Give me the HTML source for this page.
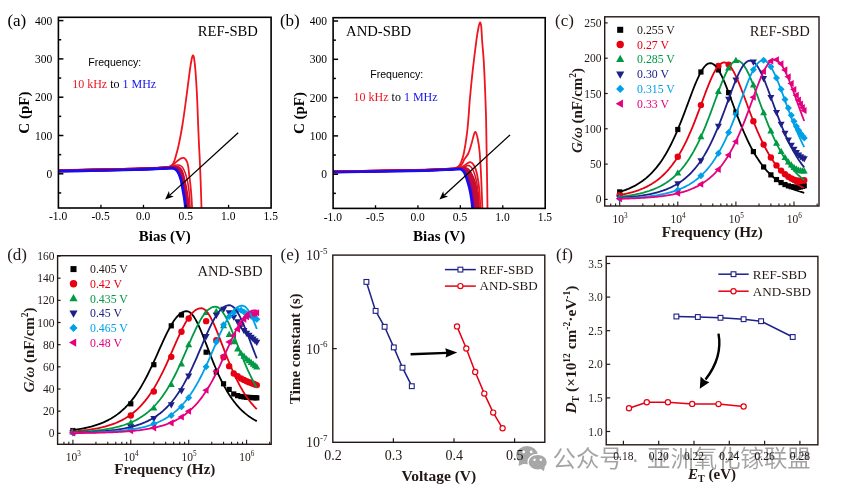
<!DOCTYPE html><html><head><meta charset="utf-8"><style>html,body{margin:0;padding:0;background:#fff}svg{display:block;will-change:transform}</style></head><body>
<svg width="841" height="493" viewBox="0 0 841 493">
<rect width="841" height="493" fill="#fff"/>
<clipPath id="clipa"><rect x="58.4" y="17.3" width="212.7" height="190.7"/></clipPath>
<g clip-path="url(#clipa)">
<path d="M57,170.3 C70,170.03 117,169.18 135,168.7 C153,168.22 159,167.77 165,167.4 C171,167.03 169.33,166.85 171,166.5 C172.67,166.15 173.75,165.55 175,165.3 C176.25,165.05 177.42,164.83 178.5,165 C179.58,165.17 180.58,165.47 181.5,166.3 C182.42,167.13 183.22,168.38 184,170 C184.78,171.62 185.53,173.67 186.2,176 C186.87,178.33 187.48,181 188,184 C188.52,187 188.93,189.67 189.3,194 C189.67,198.33 190.05,207.33 190.2,210" fill="none" stroke="#e01028" stroke-width="1.5" stroke-linejoin="round" stroke-linecap="round"/>
<path d="M57,170.3 C70,170.03 117,169.18 135,168.7 C153,168.22 159.17,167.8 165,167.4 C170.83,167 168.5,166.9 170,166.3 C171.5,165.7 172.67,164.77 174,163.8 C175.33,162.83 176.83,161.4 178,160.5 C179.17,159.6 180.07,158.83 181,158.4 C181.93,157.97 182.83,157.75 183.6,157.9 C184.37,158.05 185,158.58 185.6,159.3 C186.2,160.02 186.75,160.92 187.2,162.2 C187.65,163.48 187.98,164.97 188.3,167 C188.62,169.03 188.8,171.9 189.1,174.4 C189.4,176.9 189.8,179.37 190.1,182 C190.4,184.63 190.65,187.37 190.9,190.2 C191.15,193.03 191.38,195.7 191.6,199 C191.82,202.3 192.1,208.17 192.2,210" fill="none" stroke="#f0141e" stroke-width="1.8" stroke-linejoin="round" stroke-linecap="round"/>
<path d="M57,170.3 C70,170.03 117,169.18 135,168.7 C153,168.22 159.33,167.72 165,167.4 C170.67,167.08 167.95,167.07 169,166.8 C170.05,166.53 170.55,166.43 171.3,165.8 C172.05,165.17 172.83,164.3 173.5,163 C174.17,161.7 174.43,161 175.3,158 C176.17,155 177.48,150.67 178.7,145 C179.92,139.33 181.33,131.9 182.6,124 C183.87,116.1 185.12,106.38 186.3,97.6 C187.48,88.82 188.8,77.73 189.7,71.3 C190.6,64.87 191.17,61.63 191.7,59 C192.23,56.37 192.5,55.58 192.9,55.5 C193.3,55.42 193.67,55.87 194.1,58.5 C194.53,61.13 195,64.78 195.5,71.3 C196,77.82 196.67,88.82 197.1,97.6 C197.53,106.38 197.78,116.1 198.1,124 C198.42,131.9 198.72,139 199,145 C199.28,151 199.53,154.17 199.8,160 C200.07,165.83 200.32,172 200.6,180 C200.88,188 201.32,202.67 201.5,208 C201.68,213.33 201.67,211.33 201.7,212" fill="none" stroke="#f0141e" stroke-width="1.8" stroke-linejoin="round" stroke-linecap="round"/>
<path d="M57,170.5 C64.17,170.37 87,169.97 100,169.7 C113,169.43 125,169.2 135,168.9 C145,168.6 154.17,168.17 160,167.9 C165.83,167.63 167,167.4 170,167.3 C173,167.2 176.2,166.97 178,167.3 C179.8,167.63 180.05,168.38 180.8,169.3 C181.55,170.22 181.9,170.97 182.5,172.8 C183.1,174.63 183.75,177.37 184.4,180.3 C185.05,183.23 185.82,187.03 186.4,190.4 C186.98,193.77 187.48,197.23 187.9,200.5 C188.32,203.77 188.73,208.42 188.9,210" fill="none" stroke="#c80e34" stroke-width="2.4" stroke-linejoin="round" stroke-linecap="round"/>
<path d="M57,170.6 C64.17,170.47 87,170.07 100,169.8 C113,169.53 125,169.3 135,169 C145,168.7 154.17,168.26 160,168 C165.83,167.74 167.09,167.51 170,167.41 C172.91,167.32 175.73,167.1 177.44,167.44 C179.15,167.77 179.5,168.51 180.26,169.43 C181.03,170.34 181.41,171.11 182.03,172.93 C182.64,174.74 183.32,177.39 183.97,180.3 C184.63,183.21 185.38,187.03 185.96,190.4 C186.55,193.77 187.07,197.23 187.49,200.5 C187.91,203.77 188.32,208.42 188.49,210" fill="none" stroke="#c80e34" stroke-width="2.4" stroke-linejoin="round" stroke-linecap="round"/>
<path d="M57,170.7 C64.17,170.57 87,170.17 100,169.9 C113,169.63 125,169.4 135,169.1 C145,168.8 154.17,168.36 160,168.1 C165.83,167.84 167.19,167.61 170,167.53 C172.81,167.44 175.25,167.24 176.88,167.58 C178.5,167.91 178.95,168.64 179.73,169.55 C180.5,170.46 180.91,171.26 181.55,173.05 C182.19,174.84 182.89,177.41 183.55,180.3 C184.21,183.19 184.94,187.03 185.53,190.4 C186.11,193.77 186.65,197.23 187.07,200.5 C187.5,203.77 187.91,208.42 188.07,210" fill="none" stroke="#c80e34" stroke-width="2.4" stroke-linejoin="round" stroke-linecap="round"/>
<path d="M57,170.8 C64.17,170.67 87,170.27 100,170 C113,169.73 125,169.5 135,169.2 C145,168.9 154.17,168.46 160,168.2 C165.83,167.94 167.28,167.72 170,167.64 C172.72,167.56 174.78,167.37 176.31,167.71 C177.84,168.05 178.39,168.76 179.19,169.68 C179.98,170.59 180.42,171.4 181.07,173.18 C181.73,174.95 182.46,177.43 183.12,180.3 C183.79,183.17 184.5,187.03 185.09,190.4 C185.68,193.77 186.23,197.23 186.66,200.5 C187.09,203.77 187.5,208.42 187.66,210" fill="none" stroke="#c70e35" stroke-width="2.4" stroke-linejoin="round" stroke-linecap="round"/>
<path d="M57,170.9 C64.17,170.77 87,170.37 100,170.1 C113,169.83 125,169.6 135,169.3 C145,169 154.17,168.56 160,168.3 C165.83,168.04 167.38,167.82 170,167.75 C172.62,167.68 174.31,167.51 175.75,167.85 C177.19,168.19 177.84,168.89 178.65,169.8 C179.46,170.71 179.93,171.55 180.6,173.3 C181.27,175.05 182.02,177.45 182.7,180.3 C183.38,183.15 184.06,187.03 184.65,190.4 C185.24,193.77 185.82,197.23 186.25,200.5 C186.68,203.77 187.08,208.42 187.25,210" fill="none" stroke="#c30e3a" stroke-width="2.4" stroke-linejoin="round" stroke-linecap="round"/>
<path d="M57,171 C64.17,170.87 87,170.47 100,170.2 C113,169.93 125,169.7 135,169.4 C145,169.1 154.17,168.66 160,168.4 C165.83,168.14 167.47,167.93 170,167.86 C172.53,167.79 173.84,167.64 175.19,167.99 C176.54,168.33 177.29,169.02 178.11,169.93 C178.94,170.83 179.43,171.7 180.12,173.43 C180.82,175.15 181.59,177.47 182.28,180.3 C182.96,183.13 183.62,187.03 184.21,190.4 C184.81,193.77 185.4,197.23 185.84,200.5 C186.28,203.77 186.67,208.42 186.84,210" fill="none" stroke="#b70e46" stroke-width="2.4" stroke-linejoin="round" stroke-linecap="round"/>
<path d="M57,171.1 C64.17,170.97 87,170.57 100,170.3 C113,170.03 125,169.8 135,169.5 C145,169.2 154.17,168.75 160,168.5 C165.83,168.25 167.56,168.04 170,167.97 C172.44,167.91 173.36,167.78 174.62,168.12 C175.89,168.47 176.74,169.15 177.57,170.05 C178.41,170.95 178.94,171.84 179.65,173.55 C180.36,175.26 181.16,177.49 181.85,180.3 C182.54,183.11 183.18,187.03 183.78,190.4 C184.37,193.77 184.98,197.23 185.43,200.5 C185.87,203.77 186.26,208.42 186.43,210" fill="none" stroke="#9e0e61" stroke-width="2.4" stroke-linejoin="round" stroke-linecap="round"/>
<path d="M57,171.2 C64.17,171.07 87,170.67 100,170.4 C113,170.13 125,169.9 135,169.6 C145,169.3 154.17,168.85 160,168.6 C165.83,168.35 167.66,168.14 170,168.09 C172.34,168.03 172.89,167.91 174.06,168.26 C175.24,168.61 176.19,169.27 177.04,170.18 C177.89,171.08 178.44,171.99 179.17,173.68 C179.91,175.36 180.73,177.51 181.43,180.3 C182.12,183.09 182.74,187.03 183.34,190.4 C183.94,193.77 184.57,197.23 185.01,200.5 C185.46,203.77 185.85,208.42 186.01,210" fill="none" stroke="#6e0d94" stroke-width="2.4" stroke-linejoin="round" stroke-linecap="round"/>
<path d="M57,171.3 C64.17,171.17 87,170.77 100,170.5 C113,170.23 125,170 135,169.7 C145,169.4 154.17,168.95 160,168.7 C165.83,168.45 167.75,168.25 170,168.2 C172.25,168.15 172.42,168.05 173.5,168.4 C174.58,168.75 175.63,169.4 176.5,170.3 C177.37,171.2 177.95,172.13 178.7,173.8 C179.45,175.47 180.3,177.53 181,180.3 C181.7,183.07 182.3,187.03 182.9,190.4 C183.5,193.77 184.15,197.23 184.6,200.5 C185.05,203.77 185.43,208.42 185.6,210" fill="none" stroke="#190cf0" stroke-width="2.6" stroke-linejoin="round" stroke-linecap="round"/>
</g>
<line x1="238.2" y1="132.8" x2="169.9" y2="195.12" stroke="#000" stroke-width="1.3"/>
<polygon points="165.1,199.5 168.95,191.11 169.75,195.25 173.81,196.43" fill="#000"/>
<rect x="58.4" y="17.3" width="212.7" height="190.7" fill="none" stroke="#000" stroke-width="1.6"/>
<line x1="58.4" y1="192.95" x2="61.2" y2="192.95" stroke="#000" stroke-width="1.5"/>
<line x1="58.4" y1="173.8" x2="63.4" y2="173.8" stroke="#000" stroke-width="1.5"/>
<text x="52.2" y="177.9" font-family="'Liberation Serif','Times New Roman',serif" font-size="11.5" text-anchor="end" fill="#000">0</text>
<line x1="58.4" y1="154.65" x2="61.2" y2="154.65" stroke="#000" stroke-width="1.5"/>
<line x1="58.4" y1="135.5" x2="63.4" y2="135.5" stroke="#000" stroke-width="1.5"/>
<text x="52.2" y="139.6" font-family="'Liberation Serif','Times New Roman',serif" font-size="11.5" text-anchor="end" fill="#000">100</text>
<line x1="58.4" y1="116.35" x2="61.2" y2="116.35" stroke="#000" stroke-width="1.5"/>
<line x1="58.4" y1="97.2" x2="63.4" y2="97.2" stroke="#000" stroke-width="1.5"/>
<text x="52.2" y="101.3" font-family="'Liberation Serif','Times New Roman',serif" font-size="11.5" text-anchor="end" fill="#000">200</text>
<line x1="58.4" y1="78.05" x2="61.2" y2="78.05" stroke="#000" stroke-width="1.5"/>
<line x1="58.4" y1="58.9" x2="63.4" y2="58.9" stroke="#000" stroke-width="1.5"/>
<text x="52.2" y="63" font-family="'Liberation Serif','Times New Roman',serif" font-size="11.5" text-anchor="end" fill="#000">300</text>
<line x1="58.4" y1="39.75" x2="61.2" y2="39.75" stroke="#000" stroke-width="1.5"/>
<line x1="58.4" y1="20.6" x2="63.4" y2="20.6" stroke="#000" stroke-width="1.5"/>
<text x="52.2" y="24.7" font-family="'Liberation Serif','Times New Roman',serif" font-size="11.5" text-anchor="end" fill="#000">400</text>
<text x="58.1" y="220.3" font-family="'Liberation Serif','Times New Roman',serif" font-size="11.5" text-anchor="middle" fill="#000">-1.0</text>
<line x1="100.94" y1="208" x2="100.94" y2="204.8" stroke="#000" stroke-width="1.3"/>
<text x="100.64" y="220.3" font-family="'Liberation Serif','Times New Roman',serif" font-size="11.5" text-anchor="middle" fill="#000">-0.5</text>
<line x1="143.48" y1="208" x2="143.48" y2="204.8" stroke="#000" stroke-width="1.3"/>
<text x="143.18" y="220.3" font-family="'Liberation Serif','Times New Roman',serif" font-size="11.5" text-anchor="middle" fill="#000">0.0</text>
<line x1="186.02" y1="208" x2="186.02" y2="204.8" stroke="#000" stroke-width="1.3"/>
<text x="185.72" y="220.3" font-family="'Liberation Serif','Times New Roman',serif" font-size="11.5" text-anchor="middle" fill="#000">0.5</text>
<line x1="228.56" y1="208" x2="228.56" y2="204.8" stroke="#000" stroke-width="1.3"/>
<text x="228.26" y="220.3" font-family="'Liberation Serif','Times New Roman',serif" font-size="11.5" text-anchor="middle" fill="#000">1.0</text>
<text x="270.8" y="220.3" font-family="'Liberation Serif','Times New Roman',serif" font-size="11.5" text-anchor="middle" fill="#000">1.5</text>
<text x="164.75" y="240.5" font-family="'Liberation Serif','Times New Roman',serif" font-size="15" text-anchor="middle" font-weight="bold" fill="#000">Bias (V)</text>
<text transform="translate(29.3,112.65) rotate(-90)" x="0" y="0" text-anchor="middle" font-family="'Liberation Serif','Times New Roman',serif" font-size="15" font-weight="bold" fill="#000">C (pF)</text>
<text x="197.7" y="35.8" font-family="'Liberation Serif','Times New Roman',serif" font-size="14.65" fill="#000">REF-SBD</text>
<text x="88.2" y="65.8" font-family="'Liberation Sans',Arial,sans-serif" font-size="11.6" textLength="53" lengthAdjust="spacingAndGlyphs" fill="#000">Frequency:</text>
<text x="72.2" y="88.4" font-family="'Liberation Serif','Times New Roman',serif" font-size="12" fill="#000"><tspan fill="#f0141e">10 kHz</tspan> to <tspan fill="#1414f0">1 MHz</tspan></text>
<text x="7.4" y="25.7" font-family="'Liberation Serif','Times New Roman',serif" font-size="17" fill="#000">(a)</text>
<clipPath id="clipb"><rect x="333.1" y="17.7" width="212.1" height="190.7"/></clipPath>
<g clip-path="url(#clipb)">
<path d="M332,171.5 C347.5,171.23 404.5,170.37 425,169.9 C445.5,169.43 449,168.98 455,168.7 C461,168.42 459.33,168.57 461,168.2 C462.67,167.83 463.83,166.93 465,166.5 C466.17,166.07 467.08,165.6 468,165.6 C468.92,165.6 469.67,165.77 470.5,166.5 C471.33,167.23 472.17,168.25 473,170 C473.83,171.75 474.75,174.17 475.5,177 C476.25,179.83 476.98,183.67 477.5,187 C478.02,190.33 478.32,193.17 478.6,197 C478.88,200.83 479.1,207.83 479.2,210" fill="none" stroke="#d81028" stroke-width="1.5" stroke-linejoin="round" stroke-linecap="round"/>
<path d="M332,171.5 C347.5,171.23 404.5,170.38 425,169.9 C445.5,169.42 449.17,168.95 455,168.6 C460.83,168.25 458.5,168.27 460,167.8 C461.5,167.33 462.75,166.57 464,165.8 C465.25,165.03 466.47,163.82 467.5,163.2 C468.53,162.58 469.37,162.08 470.2,162.1 C471.03,162.12 471.78,162.57 472.5,163.3 C473.22,164.03 473.83,165.05 474.5,166.5 C475.17,167.95 475.88,169.58 476.5,172 C477.12,174.42 477.7,177.67 478.2,181 C478.7,184.33 479.12,187.17 479.5,192 C479.88,196.83 480.33,207 480.5,210" fill="none" stroke="#f0141e" stroke-width="1.8" stroke-linejoin="round" stroke-linecap="round"/>
<path d="M332,171.5 C347.5,171.23 405,170.38 425,169.9 C445,169.42 446.67,168.98 452,168.6 C457.33,168.22 455.67,168 457,167.6 C458.33,167.2 459.12,166.88 460,166.2 C460.88,165.52 461.55,164.7 462.3,163.5 C463.05,162.3 463.5,160.67 464.5,159 C465.5,157.33 467.13,156.03 468.3,153.5 C469.47,150.97 470.6,146.8 471.5,143.8 C472.4,140.8 473.03,137.48 473.7,135.5 C474.37,133.52 474.83,131.35 475.5,131.9 C476.17,132.45 477.03,135.63 477.7,138.8 C478.37,141.97 479,146 479.5,150.9 C480,155.8 480.37,162.45 480.7,168.2 C481.03,173.95 481.22,178.43 481.5,185.4 C481.78,192.37 482.25,205.9 482.4,210" fill="none" stroke="#f0141e" stroke-width="1.8" stroke-linejoin="round" stroke-linecap="round"/>
<path d="M332,171.5 C347.5,171.23 405,170.38 425,169.9 C445,169.42 446.75,168.98 452,168.6 C457.25,168.22 455.38,168 456.5,167.6 C457.62,167.2 457.95,167.05 458.7,166.2 C459.45,165.35 460.15,164.62 461,162.5 C461.85,160.38 462.82,158.22 463.8,153.5 C464.78,148.78 466.08,140.62 466.9,134.2 C467.72,127.78 468.23,120.52 468.7,115 C469.17,109.48 469.03,108.48 469.7,101.1 C470.37,93.72 471.58,80.83 472.7,70.7 C473.82,60.57 475.42,47.58 476.4,40.3 C477.38,33.02 477.98,29.98 478.6,27 C479.22,24.02 479.65,22.4 480.1,22.4 C480.55,22.4 480.97,24.03 481.3,27 C481.63,29.97 481.7,34.63 482.1,40.2 C482.5,45.77 483.27,53.67 483.7,60.4 C484.13,67.13 484.4,73.87 484.7,80.6 C485,87.33 485.27,94.23 485.5,100.8 C485.73,107.37 485.92,111.8 486.1,120 C486.28,128.2 486.43,140 486.6,150 C486.77,160 486.95,170 487.1,180 C487.25,190 487.43,205 487.5,210" fill="none" stroke="#f0141e" stroke-width="1.8" stroke-linejoin="round" stroke-linecap="round"/>
<path d="M332,171.5 C340,171.37 364.5,170.97 380,170.7 C395.5,170.43 413.33,170.22 425,169.9 C436.67,169.58 444.5,169.07 450,168.8 C455.5,168.53 455.5,168.43 458,168.3 C460.5,168.17 463.25,167.8 465,168 C466.75,168.2 467.5,168.65 468.5,169.5 C469.5,170.35 470.03,171.28 471,173.1 C471.97,174.92 473.4,177.77 474.3,180.4 C475.2,183.03 475.82,185.85 476.4,188.9 C476.98,191.95 477.42,195.18 477.8,198.7 C478.18,202.22 478.55,208.12 478.7,210" fill="none" stroke="#c80e34" stroke-width="2.1" stroke-linejoin="round" stroke-linecap="round"/>
<path d="M332,171.61 C340,171.48 364.5,171.08 380,170.81 C395.5,170.55 413.33,170.33 425,170.01 C436.67,169.7 444.5,169.18 450,168.91 C455.5,168.65 455.6,168.54 458,168.41 C460.4,168.29 462.81,167.97 464.43,168.19 C466.05,168.4 466.77,168.87 467.71,169.69 C468.65,170.5 469.14,171.31 470.07,173.1 C471,174.89 472.39,177.77 473.29,180.4 C474.18,183.03 474.83,185.85 475.43,188.9 C476.03,191.95 476.48,195.18 476.89,198.7 C477.29,202.22 477.68,208.12 477.84,210" fill="none" stroke="#c80e34" stroke-width="2.1" stroke-linejoin="round" stroke-linecap="round"/>
<path d="M332,171.73 C340,171.6 364.5,171.2 380,170.93 C395.5,170.66 413.33,170.45 425,170.13 C436.67,169.81 444.5,169.3 450,169.03 C455.5,168.76 455.69,168.64 458,168.53 C460.31,168.42 462.37,168.15 463.86,168.37 C465.35,168.6 466.05,169.08 466.93,169.87 C467.81,170.66 468.25,171.35 469.14,173.1 C470.03,174.85 471.39,177.77 472.27,180.4 C473.16,183.03 473.84,185.85 474.46,188.9 C475.07,191.95 475.55,195.18 475.97,198.7 C476.39,202.22 476.82,208.12 476.99,210" fill="none" stroke="#c80e34" stroke-width="2.1" stroke-linejoin="round" stroke-linecap="round"/>
<path d="M332,171.84 C340,171.71 364.5,171.31 380,171.04 C395.5,170.78 413.33,170.56 425,170.24 C436.67,169.93 444.5,169.41 450,169.14 C455.5,168.88 455.79,168.74 458,168.64 C460.21,168.55 461.93,168.32 463.29,168.56 C464.64,168.79 465.32,169.3 466.14,170.06 C466.96,170.81 467.36,171.38 468.21,173.1 C469.07,174.82 470.38,177.77 471.26,180.4 C472.14,183.03 472.85,185.85 473.49,188.9 C474.12,191.95 474.62,195.18 475.06,198.7 C475.5,202.22 475.95,208.12 476.13,210" fill="none" stroke="#c50e37" stroke-width="2.1" stroke-linejoin="round" stroke-linecap="round"/>
<path d="M332,171.96 C340,171.82 364.5,171.42 380,171.16 C395.5,170.89 413.33,170.67 425,170.36 C436.67,170.04 444.5,169.52 450,169.26 C455.5,168.99 455.88,168.84 458,168.76 C460.12,168.67 461.49,168.5 462.71,168.74 C463.94,168.99 464.6,169.52 465.36,170.24 C466.12,170.97 466.47,171.41 467.29,173.1 C468.1,174.79 469.37,177.77 470.24,180.4 C471.11,183.03 471.86,185.85 472.51,188.9 C473.16,191.95 473.68,195.18 474.14,198.7 C474.6,202.22 475.08,208.12 475.27,210" fill="none" stroke="#bd0e3f" stroke-width="2.1" stroke-linejoin="round" stroke-linecap="round"/>
<path d="M332,172.07 C340,171.94 364.5,171.54 380,171.27 C395.5,171 413.33,170.79 425,170.47 C436.67,170.15 444.5,169.64 450,169.37 C455.5,169.1 455.98,168.95 458,168.87 C460.02,168.8 461.05,168.67 462.14,168.93 C463.24,169.19 463.87,169.73 464.57,170.43 C465.27,171.12 465.58,171.44 466.36,173.1 C467.13,174.76 468.36,177.77 469.23,180.4 C470.09,183.03 470.88,185.85 471.54,188.9 C472.21,191.95 472.75,195.18 473.23,198.7 C473.71,202.22 474.22,208.12 474.41,210" fill="none" stroke="#a70e57" stroke-width="2.1" stroke-linejoin="round" stroke-linecap="round"/>
<path d="M332,172.19 C340,172.05 364.5,171.65 380,171.39 C395.5,171.12 413.33,170.9 425,170.59 C436.67,170.27 444.5,169.75 450,169.49 C455.5,169.22 456.07,169.05 458,168.99 C459.93,168.92 460.61,168.84 461.57,169.11 C462.54,169.39 463.14,169.95 463.79,170.61 C464.43,171.28 464.69,171.47 465.43,173.1 C466.17,174.73 467.36,177.77 468.21,180.4 C469.07,183.03 469.89,185.85 470.57,188.9 C471.25,191.95 471.82,195.18 472.31,198.7 C472.81,202.22 473.35,208.12 473.56,210" fill="none" stroke="#770d8b" stroke-width="2.1" stroke-linejoin="round" stroke-linecap="round"/>
<path d="M332,172.3 C340,172.17 364.5,171.77 380,171.5 C395.5,171.23 413.33,171.02 425,170.7 C436.67,170.38 444.5,169.87 450,169.6 C455.5,169.33 456.17,169.15 458,169.1 C459.83,169.05 460.17,169.02 461,169.3 C461.83,169.58 462.42,170.17 463,170.8 C463.58,171.43 463.8,171.5 464.5,173.1 C465.2,174.7 466.35,177.77 467.2,180.4 C468.05,183.03 468.9,185.85 469.6,188.9 C470.3,191.95 470.88,195.18 471.4,198.7 C471.92,202.22 472.48,208.12 472.7,210" fill="none" stroke="#190cf0" stroke-width="2.6" stroke-linejoin="round" stroke-linecap="round"/>
</g>
<line x1="510" y1="134.9" x2="444.19" y2="195.21" stroke="#000" stroke-width="1.3"/>
<polygon points="439.4,199.6 443.23,191.2 444.04,195.34 448.1,196.51" fill="#000"/>
<rect x="333.1" y="17.7" width="212.1" height="190.7" fill="none" stroke="#000" stroke-width="1.6"/>
<line x1="333.1" y1="193.35" x2="335.9" y2="193.35" stroke="#000" stroke-width="1.5"/>
<line x1="333.1" y1="174.2" x2="338.1" y2="174.2" stroke="#000" stroke-width="1.5"/>
<text x="326.9" y="178.3" font-family="'Liberation Serif','Times New Roman',serif" font-size="11.5" text-anchor="end" fill="#000">0</text>
<line x1="333.1" y1="155.05" x2="335.9" y2="155.05" stroke="#000" stroke-width="1.5"/>
<line x1="333.1" y1="135.9" x2="338.1" y2="135.9" stroke="#000" stroke-width="1.5"/>
<text x="326.9" y="140" font-family="'Liberation Serif','Times New Roman',serif" font-size="11.5" text-anchor="end" fill="#000">100</text>
<line x1="333.1" y1="116.75" x2="335.9" y2="116.75" stroke="#000" stroke-width="1.5"/>
<line x1="333.1" y1="97.6" x2="338.1" y2="97.6" stroke="#000" stroke-width="1.5"/>
<text x="326.9" y="101.7" font-family="'Liberation Serif','Times New Roman',serif" font-size="11.5" text-anchor="end" fill="#000">200</text>
<line x1="333.1" y1="78.45" x2="335.9" y2="78.45" stroke="#000" stroke-width="1.5"/>
<line x1="333.1" y1="59.3" x2="338.1" y2="59.3" stroke="#000" stroke-width="1.5"/>
<text x="326.9" y="63.4" font-family="'Liberation Serif','Times New Roman',serif" font-size="11.5" text-anchor="end" fill="#000">300</text>
<line x1="333.1" y1="40.15" x2="335.9" y2="40.15" stroke="#000" stroke-width="1.5"/>
<line x1="333.1" y1="21" x2="338.1" y2="21" stroke="#000" stroke-width="1.5"/>
<text x="326.9" y="25.1" font-family="'Liberation Serif','Times New Roman',serif" font-size="11.5" text-anchor="end" fill="#000">400</text>
<text x="332.8" y="220.7" font-family="'Liberation Serif','Times New Roman',serif" font-size="11.5" text-anchor="middle" fill="#000">-1.0</text>
<line x1="375.52" y1="208.4" x2="375.52" y2="205.2" stroke="#000" stroke-width="1.3"/>
<text x="375.22" y="220.7" font-family="'Liberation Serif','Times New Roman',serif" font-size="11.5" text-anchor="middle" fill="#000">-0.5</text>
<line x1="417.94" y1="208.4" x2="417.94" y2="205.2" stroke="#000" stroke-width="1.3"/>
<text x="417.64" y="220.7" font-family="'Liberation Serif','Times New Roman',serif" font-size="11.5" text-anchor="middle" fill="#000">0.0</text>
<line x1="460.36" y1="208.4" x2="460.36" y2="205.2" stroke="#000" stroke-width="1.3"/>
<text x="460.06" y="220.7" font-family="'Liberation Serif','Times New Roman',serif" font-size="11.5" text-anchor="middle" fill="#000">0.5</text>
<line x1="502.78" y1="208.4" x2="502.78" y2="205.2" stroke="#000" stroke-width="1.3"/>
<text x="502.48" y="220.7" font-family="'Liberation Serif','Times New Roman',serif" font-size="11.5" text-anchor="middle" fill="#000">1.0</text>
<text x="544.9" y="220.7" font-family="'Liberation Serif','Times New Roman',serif" font-size="11.5" text-anchor="middle" fill="#000">1.5</text>
<text x="439.15" y="240.9" font-family="'Liberation Serif','Times New Roman',serif" font-size="15" text-anchor="middle" font-weight="bold" fill="#000">Bias (V)</text>
<text transform="translate(304,113.05) rotate(-90)" x="0" y="0" text-anchor="middle" font-family="'Liberation Serif','Times New Roman',serif" font-size="15" font-weight="bold" fill="#000">C (pF)</text>
<text x="346.1" y="35.6" font-family="'Liberation Serif','Times New Roman',serif" font-size="14.65" fill="#000">AND-SBD</text>
<text x="370.2" y="77.9" font-family="'Liberation Sans',Arial,sans-serif" font-size="11.6" textLength="53" lengthAdjust="spacingAndGlyphs" fill="#000">Frequency:</text>
<text x="353.6" y="100.6" font-family="'Liberation Serif','Times New Roman',serif" font-size="12" fill="#000"><tspan fill="#f0141e">10 kHz</tspan> to <tspan fill="#1414f0">1 MHz</tspan></text>
<text x="279.9" y="25.7" font-family="'Liberation Serif','Times New Roman',serif" font-size="17" fill="#000">(b)</text>
<clipPath id="clipc"><rect x="604.7" y="16.8" width="214.3" height="189.2"/></clipPath>
<g clip-path="url(#clipc)">
<rect x="617.1" y="189.28" width="5.2" height="5.2" fill="#000000"/>
<rect x="675.2" y="126.9" width="5.2" height="5.2" fill="#000000"/>
<rect x="698.32" y="69.4" width="5.2" height="5.2" fill="#000000"/>
<rect x="715.81" y="67.32" width="5.2" height="5.2" fill="#000000"/>
<rect x="726.04" y="90.07" width="5.2" height="5.2" fill="#000000"/>
<rect x="733.3" y="109.53" width="5.2" height="5.2" fill="#000000"/>
<rect x="750.79" y="149.01" width="5.2" height="5.2" fill="#000000"/>
<rect x="761.02" y="164.37" width="5.2" height="5.2" fill="#000000"/>
<rect x="768.28" y="172.27" width="5.2" height="5.2" fill="#000000"/>
<rect x="773.91" y="176.96" width="5.2" height="5.2" fill="#000000"/>
<rect x="778.51" y="179.97" width="5.2" height="5.2" fill="#000000"/>
<rect x="782.4" y="181.95" width="5.2" height="5.2" fill="#000000"/>
<rect x="785.77" y="183.26" width="5.2" height="5.2" fill="#000000"/>
<rect x="788.74" y="184.08" width="5.2" height="5.2" fill="#000000"/>
<rect x="791.4" y="184.54" width="5.2" height="5.2" fill="#000000"/>
<rect x="793.8" y="184.7" width="5.2" height="5.2" fill="#000000"/>
<rect x="796" y="184.61" width="5.2" height="5.2" fill="#000000"/>
<rect x="798.02" y="184.31" width="5.2" height="5.2" fill="#000000"/>
<rect x="799.89" y="183.82" width="5.2" height="5.2" fill="#000000"/>
<rect x="801.63" y="183.16" width="5.2" height="5.2" fill="#000000"/>
<circle cx="619.7" cy="195.03" r="3.2" fill="#e60012"/>
<circle cx="677.8" cy="156.77" r="3.2" fill="#e60012"/>
<circle cx="700.92" cy="105.12" r="3.2" fill="#e60012"/>
<circle cx="718.41" cy="65.85" r="3.2" fill="#e60012"/>
<circle cx="728.64" cy="64.62" r="3.2" fill="#e60012"/>
<circle cx="753.39" cy="121.25" r="3.2" fill="#e60012"/>
<circle cx="763.62" cy="144.58" r="3.2" fill="#e60012"/>
<circle cx="770.88" cy="157.46" r="3.2" fill="#e60012"/>
<circle cx="776.51" cy="165.39" r="3.2" fill="#e60012"/>
<circle cx="781.11" cy="170.62" r="3.2" fill="#e60012"/>
<circle cx="785" cy="174.21" r="3.2" fill="#e60012"/>
<circle cx="788.37" cy="176.73" r="3.2" fill="#e60012"/>
<circle cx="791.34" cy="178.48" r="3.2" fill="#e60012"/>
<circle cx="794" cy="179.66" r="3.2" fill="#e60012"/>
<circle cx="796.4" cy="180.39" r="3.2" fill="#e60012"/>
<circle cx="798.6" cy="180.77" r="3.2" fill="#e60012"/>
<circle cx="800.62" cy="180.83" r="3.2" fill="#e60012"/>
<circle cx="802.49" cy="180.64" r="3.2" fill="#e60012"/>
<circle cx="804.23" cy="180.21" r="3.2" fill="#e60012"/>
<polygon points="619.7,192.86 623.21,199.1 616.19,199.1" fill="#009944"/>
<polygon points="677.8,169.29 681.31,175.53 674.29,175.53" fill="#009944"/>
<polygon points="700.92,132.93 704.43,139.17 697.41,139.17" fill="#009944"/>
<polygon points="718.41,87.71 721.92,93.95 714.9,93.95" fill="#009944"/>
<polygon points="728.64,64.18 732.15,70.42 725.13,70.42" fill="#009944"/>
<polygon points="735.9,56.86 739.41,63.1 732.39,63.1" fill="#009944"/>
<polygon points="753.39,81.28 756.9,87.52 749.88,87.52" fill="#009944"/>
<polygon points="763.62,108.97 767.13,115.21 760.11,115.21" fill="#009944"/>
<polygon points="770.88,127.29 774.39,133.53 767.37,133.53" fill="#009944"/>
<polygon points="776.51,139.44 780.02,145.68 773,145.68" fill="#009944"/>
<polygon points="781.11,147.83 784.62,154.07 777.6,154.07" fill="#009944"/>
<polygon points="785,153.8 788.51,160.04 781.49,160.04" fill="#009944"/>
<polygon points="788.37,158.15 791.88,164.39 784.86,164.39" fill="#009944"/>
<polygon points="791.34,161.34 794.85,167.58 787.83,167.58" fill="#009944"/>
<polygon points="794,163.66 797.51,169.9 790.49,169.9" fill="#009944"/>
<polygon points="796.4,165.3 799.91,171.54 792.89,171.54" fill="#009944"/>
<polygon points="798.6,166.4 802.11,172.64 795.09,172.64" fill="#009944"/>
<polygon points="800.62,167.06 804.13,173.3 797.11,173.3" fill="#009944"/>
<polygon points="802.49,167.33 806,173.57 798.98,173.57" fill="#009944"/>
<polygon points="804.23,167.28 807.74,173.52 800.72,173.52" fill="#009944"/>
<polygon points="619.7,201.72 623.21,195.48 616.19,195.48" fill="#1d2088"/>
<polygon points="677.8,187.52 681.31,181.28 674.29,181.28" fill="#1d2088"/>
<polygon points="700.92,164.52 704.43,158.28 697.41,158.28" fill="#1d2088"/>
<polygon points="718.41,130.11 721.92,123.87 714.9,123.87" fill="#1d2088"/>
<polygon points="728.64,102.94 732.15,96.7 725.13,96.7" fill="#1d2088"/>
<polygon points="735.9,83.85 739.41,77.61 732.39,77.61" fill="#1d2088"/>
<polygon points="753.39,65.69 756.9,59.45 749.88,59.45" fill="#1d2088"/>
<polygon points="763.62,82.35 767.13,76.11 760.11,76.11" fill="#1d2088"/>
<polygon points="770.88,101.15 774.39,94.91 767.37,94.91" fill="#1d2088"/>
<polygon points="776.51,116.35 780.02,110.11 773,110.11" fill="#1d2088"/>
<polygon points="781.11,127.99 784.62,121.75 777.6,121.75" fill="#1d2088"/>
<polygon points="785,136.88 788.51,130.64 781.49,130.64" fill="#1d2088"/>
<polygon points="788.37,143.71 791.88,137.47 784.86,137.47" fill="#1d2088"/>
<polygon points="791.34,148.99 794.85,142.75 787.83,142.75" fill="#1d2088"/>
<polygon points="794,153.09 797.51,146.85 790.49,146.85" fill="#1d2088"/>
<polygon points="796.4,156.25 799.91,150.01 792.89,150.01" fill="#1d2088"/>
<polygon points="798.6,158.65 802.11,152.41 795.09,152.41" fill="#1d2088"/>
<polygon points="800.62,160.44 804.13,154.2 797.11,154.2" fill="#1d2088"/>
<polygon points="802.49,161.7 806,155.46 798.98,155.46" fill="#1d2088"/>
<polygon points="804.23,162.52 807.74,156.28 800.72,156.28" fill="#1d2088"/>
<polygon points="619.7,194.95 623.2,198.45 619.7,201.95 616.2,198.45" fill="#00a0e9"/>
<polygon points="677.8,186.4 681.3,189.9 677.8,193.4 674.3,189.9" fill="#00a0e9"/>
<polygon points="700.92,172.29 704.42,175.79 700.92,179.29 697.42,175.79" fill="#00a0e9"/>
<polygon points="718.41,149.69 721.91,153.19 718.41,156.69 714.91,153.19" fill="#00a0e9"/>
<polygon points="728.64,128.96 732.14,132.46 728.64,135.96 725.14,132.46" fill="#00a0e9"/>
<polygon points="735.9,110.73 739.4,114.23 735.9,117.73 732.4,114.23" fill="#00a0e9"/>
<polygon points="753.39,66.28 756.89,69.78 753.39,73.28 749.89,69.78" fill="#00a0e9"/>
<polygon points="763.62,56.86 767.12,60.36 763.62,63.86 760.12,60.36" fill="#00a0e9"/>
<polygon points="770.88,63.31 774.38,66.81 770.88,70.31 767.38,66.81" fill="#00a0e9"/>
<polygon points="776.51,74.43 780.01,77.93 776.51,81.43 773.01,77.93" fill="#00a0e9"/>
<polygon points="781.11,85.78 784.61,89.28 781.11,92.78 777.61,89.28" fill="#00a0e9"/>
<polygon points="785,95.95 788.5,99.45 785,102.95 781.5,99.45" fill="#00a0e9"/>
<polygon points="788.37,104.62 791.87,108.12 788.37,111.62 784.87,108.12" fill="#00a0e9"/>
<polygon points="791.34,111.86 794.84,115.36 791.34,118.86 787.84,115.36" fill="#00a0e9"/>
<polygon points="794,117.84 797.5,121.34 794,124.84 790.5,121.34" fill="#00a0e9"/>
<polygon points="796.4,122.76 799.9,126.26 796.4,129.76 792.9,126.26" fill="#00a0e9"/>
<polygon points="798.6,126.75 802.1,130.25 798.6,133.75 795.1,130.25" fill="#00a0e9"/>
<polygon points="800.62,129.97 804.12,133.47 800.62,136.97 797.12,133.47" fill="#00a0e9"/>
<polygon points="802.49,132.52 805.99,136.02 802.49,139.52 798.99,136.02" fill="#00a0e9"/>
<polygon points="804.23,134.48 807.73,137.98 804.23,141.48 800.73,137.98" fill="#00a0e9"/>
<polygon points="615.8,198.79 622.04,195.28 622.04,202.3" fill="#e4007f"/>
<polygon points="673.9,193.33 680.14,189.82 680.14,196.84" fill="#e4007f"/>
<polygon points="697.02,184.26 703.26,180.75 703.26,187.77" fill="#e4007f"/>
<polygon points="714.51,169.38 720.75,165.87 720.75,172.89" fill="#e4007f"/>
<polygon points="724.74,155.02 730.98,151.51 730.98,158.53" fill="#e4007f"/>
<polygon points="732,141.39 738.24,137.88 738.24,144.9" fill="#e4007f"/>
<polygon points="749.49,97.21 755.73,93.7 755.73,100.72" fill="#e4007f"/>
<polygon points="759.72,71.51 765.96,68 765.96,75.02" fill="#e4007f"/>
<polygon points="766.98,60.9 773.22,57.39 773.22,64.41" fill="#e4007f"/>
<polygon points="772.61,59.8 778.85,56.29 778.85,63.31" fill="#e4007f"/>
<polygon points="777.21,63.72 783.45,60.21 783.45,67.23" fill="#e4007f"/>
<polygon points="781.1,69.88 787.34,66.37 787.34,73.39" fill="#e4007f"/>
<polygon points="784.47,76.72 790.71,73.21 790.71,80.23" fill="#e4007f"/>
<polygon points="787.44,83.42 793.68,79.91 793.68,86.93" fill="#e4007f"/>
<polygon points="790.1,89.61 796.34,86.1 796.34,93.12" fill="#e4007f"/>
<polygon points="792.5,95.14 798.74,91.63 798.74,98.65" fill="#e4007f"/>
<polygon points="794.7,99.96 800.94,96.45 800.94,103.47" fill="#e4007f"/>
<polygon points="796.72,104.09 802.96,100.58 802.96,107.6" fill="#e4007f"/>
<polygon points="798.59,107.55 804.83,104.04 804.83,111.06" fill="#e4007f"/>
<polygon points="800.33,110.41 806.57,106.9 806.57,113.92" fill="#e4007f"/>
<path d="M619.7,191.88 L621.24,191.41 L622.78,190.91 L624.31,190.38 L625.85,189.81 L627.39,189.21 L628.93,188.57 L630.46,187.89 L632,187.17 L633.54,186.41 L635.08,185.6 L636.62,184.74 L638.15,183.82 L639.69,182.85 L641.23,181.82 L642.77,180.72 L644.3,179.56 L645.84,178.33 L647.38,177.02 L648.92,175.64 L650.46,174.17 L651.99,172.61 L653.53,170.96 L655.07,169.22 L656.61,167.38 L658.14,165.42 L659.68,163.36 L661.22,161.19 L662.76,158.89 L664.29,156.47 L665.83,153.92 L667.37,151.25 L668.91,148.43 L670.45,145.48 L671.98,142.4 L673.52,139.17 L675.06,135.81 L676.6,132.32 L678.13,128.7 L679.67,124.96 L681.21,121.1 L682.75,117.15 L684.29,113.12 L685.82,109.02 L687.36,104.88 L688.9,100.73 L690.44,96.6 L691.97,92.52 L693.51,88.53 L695.05,84.68 L696.59,81 L698.13,77.55 L699.66,74.37 L701.2,71.51 L702.74,69.01 L704.28,66.91 L705.81,65.25 L707.35,64.05 L708.89,63.35 L710.43,63.14 L711.97,63.45 L713.5,64.25 L715.04,65.53 L716.58,67.28 L718.12,69.46 L719.65,72.04 L721.19,74.97 L722.73,78.2 L724.27,81.7 L725.81,85.41 L727.34,89.3 L728.88,93.31 L730.42,97.4 L731.96,101.54 L733.49,105.69 L735.03,109.82 L736.57,113.91 L738.11,117.93 L739.65,121.86 L741.18,125.69 L742.72,129.41 L744.26,133.01 L745.8,136.48 L747.33,139.81 L748.87,143.01 L750.41,146.07 L751.95,148.99 L753.48,151.78 L755.02,154.43 L756.56,156.95 L758.1,159.35 L759.64,161.62 L761.17,163.77 L762.71,165.81 L764.25,167.74 L765.79,169.57 L767.32,171.29 L768.86,172.92 L770.4,174.46 L771.94,175.91 L773.48,177.28 L775.01,178.57 L776.55,179.79 L778.09,180.94 L779.63,182.02 L781.16,183.04 L782.7,184 L784.24,184.91 L785.78,185.76 L787.32,186.56 L788.85,187.32 L790.39,188.03 L791.93,188.7 L793.47,189.33 L795,189.92 L796.54,190.48 L798.08,191.01 L799.62,191.51 L801.16,191.97 L802.69,192.41 L804.23,192.82" fill="none" stroke="#000000" stroke-width="1.8" stroke-linejoin="round"/>
<path d="M619.7,195.03 L621.24,194.76 L622.78,194.46 L624.31,194.15 L625.85,193.82 L627.39,193.47 L628.93,193.1 L630.46,192.71 L632,192.29 L633.54,191.84 L635.08,191.37 L636.62,190.86 L638.15,190.33 L639.69,189.76 L641.23,189.15 L642.77,188.51 L644.3,187.83 L645.84,187.11 L647.38,186.34 L648.92,185.52 L650.46,184.65 L651.99,183.73 L653.53,182.75 L655.07,181.72 L656.61,180.62 L658.14,179.45 L659.68,178.21 L661.22,176.89 L662.76,175.5 L664.29,174.02 L665.83,172.46 L667.37,170.8 L668.91,169.05 L670.45,167.19 L671.98,165.23 L673.52,163.16 L675.06,160.97 L676.6,158.66 L678.13,156.23 L679.67,153.67 L681.21,150.97 L682.75,148.15 L684.29,145.18 L685.82,142.08 L687.36,138.83 L688.9,135.46 L690.44,131.94 L691.97,128.3 L693.51,124.54 L695.05,120.67 L696.59,116.69 L698.13,112.64 L699.66,108.52 L701.2,104.36 L702.74,100.18 L704.28,96.03 L705.81,91.93 L707.35,87.92 L708.89,84.05 L710.43,80.36 L711.97,76.89 L713.5,73.7 L715.04,70.82 L716.58,68.31 L718.12,66.21 L719.65,64.54 L721.19,63.34 L722.73,62.64 L724.27,62.44 L725.81,62.75 L727.34,63.56 L728.88,64.85 L730.42,66.61 L731.96,68.81 L733.49,71.4 L735.03,74.34 L736.57,77.6 L738.11,81.12 L739.65,84.85 L741.18,88.76 L742.72,92.79 L744.26,96.9 L745.8,101.06 L747.33,105.23 L748.87,109.39 L750.41,113.5 L751.95,117.54 L753.48,121.49 L755.02,125.34 L756.56,129.08 L758.1,132.69 L759.64,136.18 L761.17,139.53 L762.71,142.74 L764.25,145.82 L765.79,148.75 L767.32,151.55 L768.86,154.22 L770.4,156.75 L771.94,159.16 L773.48,161.44 L775.01,163.61 L776.55,165.65 L778.09,167.59 L779.63,169.43 L781.16,171.16 L782.7,172.8 L784.24,174.34 L785.78,175.8 L787.32,177.18 L788.85,178.48 L790.39,179.7 L791.93,180.85 L793.47,181.94 L795,182.96 L796.54,183.93 L798.08,184.84 L799.62,185.7 L801.16,186.5 L802.69,187.26 L804.23,187.98" fill="none" stroke="#e60012" stroke-width="1.8" stroke-linejoin="round"/>
<path d="M619.7,196.76 L621.24,196.59 L622.78,196.41 L624.31,196.22 L625.85,196.03 L627.39,195.81 L628.93,195.59 L630.46,195.35 L632,195.09 L633.54,194.82 L635.08,194.54 L636.62,194.23 L638.15,193.91 L639.69,193.56 L641.23,193.19 L642.77,192.81 L644.3,192.39 L645.84,191.95 L647.38,191.48 L648.92,190.99 L650.46,190.46 L651.99,189.9 L653.53,189.3 L655.07,188.67 L656.61,188 L658.14,187.29 L659.68,186.53 L661.22,185.72 L662.76,184.87 L664.29,183.96 L665.83,183 L667.37,181.97 L668.91,180.89 L670.45,179.74 L671.98,178.52 L673.52,177.22 L675.06,175.84 L676.6,174.39 L678.13,172.84 L679.67,171.21 L681.21,169.48 L682.75,167.65 L684.29,165.71 L685.82,163.66 L687.36,161.5 L688.9,159.22 L690.44,156.81 L691.97,154.27 L693.51,151.61 L695.05,148.8 L696.59,145.86 L698.13,142.78 L699.66,139.56 L701.2,136.2 L702.74,132.71 L704.28,129.08 L705.81,125.32 L707.35,121.44 L708.89,117.46 L710.43,113.39 L711.97,109.24 L713.5,105.04 L715.04,100.81 L716.58,96.59 L718.12,92.41 L719.65,88.3 L721.19,84.3 L722.73,80.47 L724.27,76.85 L725.81,73.47 L727.34,70.41 L728.88,67.69 L730.42,65.36 L731.96,63.46 L733.49,62.02 L735.03,61.07 L736.57,60.63 L738.11,60.71 L739.65,61.29 L741.18,62.38 L742.72,63.95 L744.26,65.98 L745.8,68.42 L747.33,71.24 L748.87,74.4 L750.41,77.85 L751.95,81.54 L753.48,85.42 L755.02,89.45 L756.56,93.59 L758.1,97.79 L759.64,102.01 L761.17,106.24 L762.71,110.42 L764.25,114.55 L765.79,118.6 L767.32,122.55 L768.86,126.4 L770.4,130.12 L771.94,133.71 L773.48,137.17 L775.01,140.49 L776.55,143.67 L778.09,146.71 L779.63,149.61 L781.16,152.38 L782.7,155.01 L784.24,157.51 L785.78,159.88 L787.32,162.13 L788.85,164.25 L790.39,166.27 L791.93,168.18 L793.47,169.98 L795,171.68 L796.54,173.29 L798.08,174.81 L799.62,176.24 L801.16,177.59 L802.69,178.87 L804.23,180.07" fill="none" stroke="#009944" stroke-width="1.8" stroke-linejoin="round"/>
<path d="M619.7,197.82 L621.24,197.72 L622.78,197.61 L624.31,197.5 L625.85,197.38 L627.39,197.25 L628.93,197.12 L630.46,196.98 L632,196.82 L633.54,196.66 L635.08,196.49 L636.62,196.31 L638.15,196.11 L639.69,195.91 L641.23,195.69 L642.77,195.45 L644.3,195.2 L645.84,194.94 L647.38,194.66 L648.92,194.36 L650.46,194.05 L651.99,193.71 L653.53,193.35 L655.07,192.97 L656.61,192.57 L658.14,192.14 L659.68,191.69 L661.22,191.2 L662.76,190.69 L664.29,190.14 L665.83,189.56 L667.37,188.95 L668.91,188.29 L670.45,187.6 L671.98,186.86 L673.52,186.07 L675.06,185.24 L676.6,184.35 L678.13,183.41 L679.67,182.42 L681.21,181.36 L682.75,180.24 L684.29,179.04 L685.82,177.78 L687.36,176.44 L688.9,175.02 L690.44,173.51 L691.97,171.92 L693.51,170.23 L695.05,168.44 L696.59,166.55 L698.13,164.55 L699.66,162.43 L701.2,160.2 L702.74,157.85 L704.28,155.37 L705.81,152.76 L707.35,150.01 L708.89,147.13 L710.43,144.11 L711.97,140.95 L713.5,137.65 L715.04,134.21 L716.58,130.64 L718.12,126.93 L719.65,123.1 L721.19,119.17 L722.73,115.13 L724.27,111.01 L725.81,106.83 L727.34,102.61 L728.88,98.39 L730.42,94.18 L731.96,90.03 L733.49,85.99 L735.03,82.08 L736.57,78.36 L738.11,74.87 L739.65,71.67 L741.18,68.8 L742.72,66.3 L744.26,64.21 L745.8,62.57 L747.33,61.42 L748.87,60.76 L750.41,60.61 L751.95,60.98 L753.48,61.86 L755.02,63.23 L756.56,65.06 L758.1,67.33 L759.64,70 L761.17,73.02 L762.71,76.35 L764.25,79.94 L765.79,83.75 L767.32,87.72 L768.86,91.82 L770.4,96 L771.94,100.22 L773.48,104.44 L775.01,108.65 L776.55,112.8 L778.09,116.89 L779.63,120.89 L781.16,124.78 L782.7,128.55 L784.24,132.2 L785.78,135.72 L787.32,139.1 L788.85,142.34 L790.39,145.44 L791.93,148.4 L793.47,151.22 L795,153.9 L796.54,156.46 L798.08,158.88 L799.62,161.18 L801.16,163.36 L802.69,165.43 L804.23,167.38" fill="none" stroke="#1d2088" stroke-width="1.8" stroke-linejoin="round"/>
<path d="M619.7,198.45 L621.24,198.39 L622.78,198.33 L624.31,198.26 L625.85,198.19 L627.39,198.11 L628.93,198.03 L630.46,197.94 L632,197.85 L633.54,197.75 L635.08,197.65 L636.62,197.54 L638.15,197.42 L639.69,197.3 L641.23,197.17 L642.77,197.03 L644.3,196.88 L645.84,196.72 L647.38,196.55 L648.92,196.37 L650.46,196.18 L651.99,195.98 L653.53,195.76 L655.07,195.54 L656.61,195.29 L658.14,195.04 L659.68,194.76 L661.22,194.47 L662.76,194.16 L664.29,193.83 L665.83,193.48 L667.37,193.11 L668.91,192.72 L670.45,192.3 L671.98,191.85 L673.52,191.38 L675.06,190.87 L676.6,190.34 L678.13,189.77 L679.67,189.17 L681.21,188.53 L682.75,187.85 L684.29,187.12 L685.82,186.36 L687.36,185.54 L688.9,184.67 L690.44,183.75 L691.97,182.78 L693.51,181.74 L695.05,180.64 L696.59,179.47 L698.13,178.24 L699.66,176.92 L701.2,175.53 L702.74,174.06 L704.28,172.49 L705.81,170.84 L707.35,169.08 L708.89,167.23 L710.43,165.27 L711.97,163.19 L713.5,161 L715.04,158.69 L716.58,156.26 L718.12,153.69 L719.65,150.99 L721.19,148.16 L722.73,145.19 L724.27,142.08 L725.81,138.82 L727.34,135.43 L728.88,131.9 L730.42,128.24 L731.96,124.45 L733.49,120.55 L735.03,116.54 L736.57,112.44 L738.11,108.27 L739.65,104.06 L741.18,99.82 L742.72,95.59 L744.26,91.41 L745.8,87.31 L747.33,83.34 L748.87,79.53 L750.41,75.94 L751.95,72.62 L753.48,69.61 L755.02,66.95 L756.56,64.69 L758.1,62.88 L759.64,61.53 L761.17,60.67 L762.71,60.33 L764.25,60.5 L765.79,61.18 L767.32,62.36 L768.86,64.02 L770.4,66.13 L771.94,68.65 L773.48,71.55 L775.01,74.77 L776.55,78.28 L778.09,82.01 L779.63,85.94 L781.16,90 L782.7,94.16 L784.24,98.37 L785.78,102.61 L787.32,106.83 L788.85,111.02 L790.39,115.14 L791.93,119.18 L793.47,123.13 L795,126.96 L796.54,130.66 L798.08,134.24 L799.62,137.68 L801.16,140.98 L802.69,144.14 L804.23,147.16" fill="none" stroke="#00a0e9" stroke-width="1.8" stroke-linejoin="round"/>
<path d="M619.7,198.79 L621.24,198.75 L622.78,198.71 L624.31,198.67 L625.85,198.62 L627.39,198.58 L628.93,198.52 L630.46,198.47 L632,198.41 L633.54,198.35 L635.08,198.28 L636.62,198.21 L638.15,198.14 L639.69,198.06 L641.23,197.97 L642.77,197.88 L644.3,197.79 L645.84,197.69 L647.38,197.58 L648.92,197.47 L650.46,197.34 L651.99,197.22 L653.53,197.08 L655.07,196.93 L656.61,196.78 L658.14,196.61 L659.68,196.44 L661.22,196.25 L662.76,196.05 L664.29,195.84 L665.83,195.62 L667.37,195.38 L668.91,195.13 L670.45,194.86 L671.98,194.58 L673.52,194.27 L675.06,193.95 L676.6,193.61 L678.13,193.25 L679.67,192.86 L681.21,192.45 L682.75,192.01 L684.29,191.55 L685.82,191.06 L687.36,190.54 L688.9,189.98 L690.44,189.39 L691.97,188.76 L693.51,188.1 L695.05,187.39 L696.59,186.64 L698.13,185.84 L699.66,184.99 L701.2,184.09 L702.74,183.13 L704.28,182.12 L705.81,181.04 L707.35,179.9 L708.89,178.69 L710.43,177.4 L711.97,176.04 L713.5,174.59 L715.04,173.06 L716.58,171.44 L718.12,169.72 L719.65,167.9 L721.19,165.98 L722.73,163.95 L724.27,161.8 L725.81,159.53 L727.34,157.14 L728.88,154.62 L730.42,151.97 L731.96,149.18 L733.49,146.25 L735.03,143.19 L736.57,139.98 L738.11,136.63 L739.65,133.15 L741.18,129.52 L742.72,125.77 L744.26,121.9 L745.8,117.91 L747.33,113.83 L748.87,109.67 L750.41,105.45 L751.95,101.2 L753.48,96.95 L755.02,92.72 L756.56,88.56 L758.1,84.5 L759.64,80.6 L761.17,76.89 L762.71,73.42 L764.25,70.25 L765.79,67.41 L767.32,64.96 L768.86,62.94 L770.4,61.37 L771.94,60.29 L773.48,59.71 L775.01,59.65 L776.55,60.11 L778.09,61.08 L779.63,62.54 L781.16,64.46 L782.7,66.82 L784.24,69.57 L785.78,72.67 L787.32,76.07 L788.85,79.73 L790.39,83.59 L791.93,87.62 L793.47,91.76 L795,95.98 L796.54,100.23 L798.08,104.49 L799.62,108.71 L801.16,112.89 L802.69,116.99 L804.23,121" fill="none" stroke="#e4007f" stroke-width="1.8" stroke-linejoin="round"/>
</g>
<rect x="604.7" y="16.8" width="214.3" height="189.2" fill="none" stroke="#231815" stroke-width="1.4"/>
<line x1="604.7" y1="199.4" x2="607.7" y2="199.4" stroke="#231815" stroke-width="1.2"/>
<text x="601.5" y="203.4" font-family="'Liberation Serif','Times New Roman',serif" font-size="11.5" text-anchor="end" fill="#231815">0</text>
<line x1="604.7" y1="164.1" x2="607.7" y2="164.1" stroke="#231815" stroke-width="1.2"/>
<text x="601.5" y="168.1" font-family="'Liberation Serif','Times New Roman',serif" font-size="11.5" text-anchor="end" fill="#231815">50</text>
<line x1="604.7" y1="128.8" x2="607.7" y2="128.8" stroke="#231815" stroke-width="1.2"/>
<text x="601.5" y="132.8" font-family="'Liberation Serif','Times New Roman',serif" font-size="11.5" text-anchor="end" fill="#231815">100</text>
<line x1="604.7" y1="93.5" x2="607.7" y2="93.5" stroke="#231815" stroke-width="1.2"/>
<text x="601.5" y="97.5" font-family="'Liberation Serif','Times New Roman',serif" font-size="11.5" text-anchor="end" fill="#231815">150</text>
<line x1="604.7" y1="58.2" x2="607.7" y2="58.2" stroke="#231815" stroke-width="1.2"/>
<text x="601.5" y="62.2" font-family="'Liberation Serif','Times New Roman',serif" font-size="11.5" text-anchor="end" fill="#231815">200</text>
<line x1="604.7" y1="22.9" x2="607.7" y2="22.9" stroke="#231815" stroke-width="1.2"/>
<text x="601.5" y="26.9" font-family="'Liberation Serif','Times New Roman',serif" font-size="11.5" text-anchor="end" fill="#231815">250</text>
<line x1="610.7" y1="206" x2="610.7" y2="203.4" stroke="#231815" stroke-width="1.1"/>
<line x1="615.6" y1="206" x2="615.6" y2="203.4" stroke="#231815" stroke-width="1.1"/>
<line x1="619.7" y1="206" x2="619.7" y2="201.4" stroke="#231815" stroke-width="1.1"/>
<text x="620" y="223.3" text-anchor="middle" font-family="'Liberation Serif','Times New Roman',serif" font-size="11.5" fill="#231815">10<tspan font-size="7.2" dy="-5.3">3</tspan></text>
<line x1="642.82" y1="206" x2="642.82" y2="203.4" stroke="#231815" stroke-width="1.1"/>
<line x1="654.68" y1="206" x2="654.68" y2="203.4" stroke="#231815" stroke-width="1.1"/>
<line x1="662.72" y1="206" x2="662.72" y2="203.4" stroke="#231815" stroke-width="1.1"/>
<line x1="668.8" y1="206" x2="668.8" y2="203.4" stroke="#231815" stroke-width="1.1"/>
<line x1="673.7" y1="206" x2="673.7" y2="203.4" stroke="#231815" stroke-width="1.1"/>
<line x1="677.8" y1="206" x2="677.8" y2="201.4" stroke="#231815" stroke-width="1.1"/>
<text x="678.1" y="223.3" text-anchor="middle" font-family="'Liberation Serif','Times New Roman',serif" font-size="11.5" fill="#231815">10<tspan font-size="7.2" dy="-5.3">4</tspan></text>
<line x1="700.92" y1="206" x2="700.92" y2="203.4" stroke="#231815" stroke-width="1.1"/>
<line x1="712.78" y1="206" x2="712.78" y2="203.4" stroke="#231815" stroke-width="1.1"/>
<line x1="720.82" y1="206" x2="720.82" y2="203.4" stroke="#231815" stroke-width="1.1"/>
<line x1="726.9" y1="206" x2="726.9" y2="203.4" stroke="#231815" stroke-width="1.1"/>
<line x1="731.8" y1="206" x2="731.8" y2="203.4" stroke="#231815" stroke-width="1.1"/>
<line x1="735.9" y1="206" x2="735.9" y2="201.4" stroke="#231815" stroke-width="1.1"/>
<text x="736.2" y="223.3" text-anchor="middle" font-family="'Liberation Serif','Times New Roman',serif" font-size="11.5" fill="#231815">10<tspan font-size="7.2" dy="-5.3">5</tspan></text>
<line x1="759.02" y1="206" x2="759.02" y2="203.4" stroke="#231815" stroke-width="1.1"/>
<line x1="770.88" y1="206" x2="770.88" y2="203.4" stroke="#231815" stroke-width="1.1"/>
<line x1="778.92" y1="206" x2="778.92" y2="203.4" stroke="#231815" stroke-width="1.1"/>
<line x1="785" y1="206" x2="785" y2="203.4" stroke="#231815" stroke-width="1.1"/>
<line x1="789.9" y1="206" x2="789.9" y2="203.4" stroke="#231815" stroke-width="1.1"/>
<line x1="794" y1="206" x2="794" y2="201.4" stroke="#231815" stroke-width="1.1"/>
<text x="794.3" y="223.3" text-anchor="middle" font-family="'Liberation Serif','Times New Roman',serif" font-size="11.5" fill="#231815">10<tspan font-size="7.2" dy="-5.3">6</tspan></text>
<line x1="817.12" y1="206" x2="817.12" y2="203.4" stroke="#231815" stroke-width="1.1"/>
<text x="712.35" y="236.6" font-family="'Liberation Serif','Times New Roman',serif" font-size="15.15" text-anchor="middle" font-weight="bold" fill="#231815">Frequency (Hz)</text>
<text transform="translate(581.5,110.5) rotate(-90)" text-anchor="middle" font-family="'Liberation Serif','Times New Roman',serif" font-size="15" font-weight="bold" fill="#231815"><tspan font-style="italic">G/ω</tspan> (nF/cm<tspan font-size="9.5" dy="-6">2</tspan><tspan dy="6">)</tspan></text>
<rect x="617.18" y="26.78" width="6.03" height="6.03" fill="#000000"/>
<text x="637.1" y="33.8" font-family="'Liberation Serif','Times New Roman',serif" font-size="11.8" fill="#231815">0.255 V</text>
<circle cx="620.2" cy="44.57" r="3.71" fill="#e60012"/>
<text x="637.1" y="48.57" font-family="'Liberation Serif','Times New Roman',serif" font-size="11.8" fill="#e60012">0.27 V</text>
<polygon points="620.2,54.82 624.27,62.05 616.13,62.05" fill="#009944"/>
<text x="637.1" y="63.34" font-family="'Liberation Serif','Times New Roman',serif" font-size="11.8" fill="#009944">0.285 V</text>
<polygon points="620.2,78.63 624.27,71.4 616.13,71.4" fill="#1d2088"/>
<text x="637.1" y="78.11" font-family="'Liberation Serif','Times New Roman',serif" font-size="11.8" fill="#1d2088">0.30 V</text>
<polygon points="620.2,84.82 624.26,88.88 620.2,92.94 616.14,88.88" fill="#00a0e9"/>
<text x="637.1" y="92.88" font-family="'Liberation Serif','Times New Roman',serif" font-size="11.8" fill="#00a0e9">0.315 V</text>
<polygon points="615.68,103.65 622.91,99.58 622.91,107.72" fill="#e4007f"/>
<text x="637.1" y="107.65" font-family="'Liberation Serif','Times New Roman',serif" font-size="11.8" fill="#e4007f">0.33 V</text>
<text x="749.7" y="35.5" font-family="'Liberation Serif','Times New Roman',serif" font-size="14.65" fill="#231815">REF-SBD</text>
<text x="555" y="25.5" font-family="'Liberation Serif','Times New Roman',serif" font-size="17" fill="#231815">(c)</text>
<clipPath id="clipd"><rect x="57.6" y="255.7" width="213.6" height="188.6"/></clipPath>
<g clip-path="url(#clipd)">
<rect x="70.3" y="427.93" width="5.2" height="5.2" fill="#000000"/>
<rect x="128.2" y="401.23" width="5.2" height="5.2" fill="#000000"/>
<rect x="151.24" y="362.11" width="5.2" height="5.2" fill="#000000"/>
<rect x="168.67" y="323.22" width="5.2" height="5.2" fill="#000000"/>
<rect x="178.87" y="312.37" width="5.2" height="5.2" fill="#000000"/>
<rect x="203.53" y="349.6" width="5.2" height="5.2" fill="#000000"/>
<rect x="213.73" y="369.44" width="5.2" height="5.2" fill="#000000"/>
<rect x="220.96" y="381.18" width="5.2" height="5.2" fill="#000000"/>
<rect x="226.57" y="386.82" width="5.2" height="5.2" fill="#000000"/>
<rect x="231.15" y="391.37" width="5.2" height="5.2" fill="#000000"/>
<rect x="235.03" y="393.03" width="5.2" height="5.2" fill="#000000"/>
<rect x="238.39" y="393.92" width="5.2" height="5.2" fill="#000000"/>
<rect x="241.35" y="394.32" width="5.2" height="5.2" fill="#000000"/>
<rect x="244" y="394.69" width="5.2" height="5.2" fill="#000000"/>
<rect x="246.4" y="394.82" width="5.2" height="5.2" fill="#000000"/>
<rect x="248.58" y="394.94" width="5.2" height="5.2" fill="#000000"/>
<rect x="250.6" y="395.05" width="5.2" height="5.2" fill="#000000"/>
<rect x="252.46" y="395.15" width="5.2" height="5.2" fill="#000000"/>
<rect x="254.2" y="395.24" width="5.2" height="5.2" fill="#000000"/>
<circle cx="72.9" cy="431.64" r="3.2" fill="#e60012"/>
<circle cx="130.8" cy="415.57" r="3.2" fill="#e60012"/>
<circle cx="153.84" cy="391.53" r="3.2" fill="#e60012"/>
<circle cx="171.27" cy="356.85" r="3.2" fill="#e60012"/>
<circle cx="181.47" cy="331.81" r="3.2" fill="#e60012"/>
<circle cx="188.7" cy="318.51" r="3.2" fill="#e60012"/>
<circle cx="206.13" cy="321.17" r="3.2" fill="#e60012"/>
<circle cx="216.33" cy="340.24" r="3.2" fill="#e60012"/>
<circle cx="223.56" cy="357.19" r="3.2" fill="#e60012"/>
<circle cx="229.17" cy="366.15" r="3.2" fill="#e60012"/>
<circle cx="233.75" cy="373.47" r="3.2" fill="#e60012"/>
<circle cx="237.63" cy="376.14" r="3.2" fill="#e60012"/>
<circle cx="240.99" cy="378.46" r="3.2" fill="#e60012"/>
<circle cx="243.95" cy="379.92" r="3.2" fill="#e60012"/>
<circle cx="246.6" cy="381.22" r="3.2" fill="#e60012"/>
<circle cx="249" cy="382.14" r="3.2" fill="#e60012"/>
<circle cx="251.18" cy="382.97" r="3.2" fill="#e60012"/>
<circle cx="253.2" cy="383.73" r="3.2" fill="#e60012"/>
<circle cx="255.06" cy="384.44" r="3.2" fill="#e60012"/>
<circle cx="256.8" cy="385.1" r="3.2" fill="#e60012"/>
<polygon points="72.9,428.29 76.41,434.53 69.39,434.53" fill="#009944"/>
<polygon points="130.8,419.1 134.31,425.34 127.29,425.34" fill="#009944"/>
<polygon points="153.84,404.36 157.35,410.6 150.33,410.6" fill="#009944"/>
<polygon points="171.27,380.76 174.78,387 167.76,387" fill="#009944"/>
<polygon points="181.47,360.15 184.98,366.39 177.96,366.39" fill="#009944"/>
<polygon points="188.7,341.09 192.21,347.33 185.19,347.33" fill="#009944"/>
<polygon points="206.13,308.85 209.64,315.09 202.62,315.09" fill="#009944"/>
<polygon points="216.33,307.76 219.84,314 212.82,314" fill="#009944"/>
<polygon points="223.56,321.93 227.07,328.17 220.05,328.17" fill="#009944"/>
<polygon points="229.17,330.79 232.68,337.03 225.66,337.03" fill="#009944"/>
<polygon points="233.75,338.12 237.26,344.36 230.24,344.36" fill="#009944"/>
<polygon points="237.63,345.31 241.14,351.55 234.12,351.55" fill="#009944"/>
<polygon points="240.99,349.63 244.5,355.87 237.48,355.87" fill="#009944"/>
<polygon points="243.95,352.55 247.46,358.79 240.44,358.79" fill="#009944"/>
<polygon points="246.6,355.16 250.11,361.4 243.09,361.4" fill="#009944"/>
<polygon points="249,357.09 252.51,363.33 245.49,363.33" fill="#009944"/>
<polygon points="251.18,358.85 254.69,365.09 247.67,365.09" fill="#009944"/>
<polygon points="253.2,360.47 256.71,366.71 249.69,366.71" fill="#009944"/>
<polygon points="255.06,361.97 258.57,368.21 251.55,368.21" fill="#009944"/>
<polygon points="256.8,363.36 260.31,369.6 253.29,369.6" fill="#009944"/>
<polygon points="72.9,436.42 76.41,430.18 69.39,430.18" fill="#1d2088"/>
<polygon points="130.8,430.66 134.31,424.42 127.29,424.42" fill="#1d2088"/>
<polygon points="153.84,422.35 157.35,416.11 150.33,416.11" fill="#1d2088"/>
<polygon points="171.27,408.39 174.78,402.15 167.76,402.15" fill="#1d2088"/>
<polygon points="181.47,394.54 184.98,388.3 177.96,388.3" fill="#1d2088"/>
<polygon points="188.7,379.81 192.21,373.57 185.19,373.57" fill="#1d2088"/>
<polygon points="206.13,340.25 209.64,334.01 202.62,334.01" fill="#1d2088"/>
<polygon points="216.33,318.97 219.84,312.73 212.82,312.73" fill="#1d2088"/>
<polygon points="223.56,313.11 227.07,306.87 220.05,306.87" fill="#1d2088"/>
<polygon points="229.17,316.43 232.68,310.19 225.66,310.19" fill="#1d2088"/>
<polygon points="233.75,320.87 237.26,314.63 230.24,314.63" fill="#1d2088"/>
<polygon points="237.63,325.52 241.14,319.28 234.12,319.28" fill="#1d2088"/>
<polygon points="240.99,329.4 244.5,323.16 237.48,323.16" fill="#1d2088"/>
<polygon points="243.95,334.17 247.46,327.93 240.44,327.93" fill="#1d2088"/>
<polygon points="246.6,336.93 250.11,330.69 243.09,330.69" fill="#1d2088"/>
<polygon points="249,339.04 252.51,332.8 245.49,332.8" fill="#1d2088"/>
<polygon points="251.18,340.96 254.69,334.72 247.67,334.72" fill="#1d2088"/>
<polygon points="253.2,342.74 256.71,336.5 249.69,336.5" fill="#1d2088"/>
<polygon points="255.06,344.38 258.57,338.14 251.55,338.14" fill="#1d2088"/>
<polygon points="256.8,345.9 260.31,339.66 253.29,339.66" fill="#1d2088"/>
<polygon points="72.9,429.36 76.4,432.86 72.9,436.36 69.4,432.86" fill="#00a0e9"/>
<polygon points="130.8,425.37 134.3,428.87 130.8,432.37 127.3,428.87" fill="#00a0e9"/>
<polygon points="153.84,420.27 157.34,423.77 153.84,427.27 150.34,423.77" fill="#00a0e9"/>
<polygon points="171.27,412.07 174.77,415.57 171.27,419.07 167.77,415.57" fill="#00a0e9"/>
<polygon points="181.47,403.21 184.97,406.71 181.47,410.21 177.97,406.71" fill="#00a0e9"/>
<polygon points="188.7,394.34 192.2,397.84 188.7,401.34 185.2,397.84" fill="#00a0e9"/>
<polygon points="206.13,363.32 209.63,366.82 206.13,370.32 202.63,366.82" fill="#00a0e9"/>
<polygon points="216.33,338.48 219.83,341.98 216.33,345.48 212.83,341.98" fill="#00a0e9"/>
<polygon points="223.56,321.32 227.06,324.82 223.56,328.32 220.06,324.82" fill="#00a0e9"/>
<polygon points="229.17,312.91 232.67,316.41 229.17,319.91 225.67,316.41" fill="#00a0e9"/>
<polygon points="233.75,309.24 237.25,312.74 233.75,316.24 230.25,312.74" fill="#00a0e9"/>
<polygon points="237.63,306.81 241.13,310.31 237.63,313.81 234.13,310.31" fill="#00a0e9"/>
<polygon points="240.99,306.82 244.49,310.32 240.99,313.82 237.49,310.32" fill="#00a0e9"/>
<polygon points="243.95,308.57 247.45,312.07 243.95,315.57 240.45,312.07" fill="#00a0e9"/>
<polygon points="246.6,310.14 250.1,313.64 246.6,317.14 243.1,313.64" fill="#00a0e9"/>
<polygon points="249,311.44 252.5,314.94 249,318.44 245.5,314.94" fill="#00a0e9"/>
<polygon points="251.18,312.63 254.68,316.13 251.18,319.63 247.68,316.13" fill="#00a0e9"/>
<polygon points="253.2,313.72 256.7,317.22 253.2,320.72 249.7,317.22" fill="#00a0e9"/>
<polygon points="255.06,314.74 258.56,318.24 255.06,321.74 251.56,318.24" fill="#00a0e9"/>
<polygon points="256.8,315.68 260.3,319.18 256.8,322.68 253.3,319.18" fill="#00a0e9"/>
<polygon points="69,433.08 75.24,429.57 75.24,436.59" fill="#e4007f"/>
<polygon points="126.9,430.86 133.14,427.35 133.14,434.37" fill="#e4007f"/>
<polygon points="149.94,427.87 156.18,424.36 156.18,431.38" fill="#e4007f"/>
<polygon points="167.37,422.88 173.61,419.37 173.61,426.39" fill="#e4007f"/>
<polygon points="177.57,417.01 183.81,413.5 183.81,420.52" fill="#e4007f"/>
<polygon points="184.8,411.14 191.04,407.63 191.04,414.65" fill="#e4007f"/>
<polygon points="202.23,390.2 208.47,386.69 208.47,393.71" fill="#e4007f"/>
<polygon points="212.43,371.24 218.67,367.73 218.67,374.75" fill="#e4007f"/>
<polygon points="219.66,355.84 225.9,352.33 225.9,359.35" fill="#e4007f"/>
<polygon points="225.27,342.01 231.51,338.5 231.51,345.52" fill="#e4007f"/>
<polygon points="229.85,335.23 236.09,331.72 236.09,338.74" fill="#e4007f"/>
<polygon points="233.73,329.14 239.97,325.63 239.97,332.65" fill="#e4007f"/>
<polygon points="237.09,323.6 243.33,320.09 243.33,327.11" fill="#e4007f"/>
<polygon points="240.05,319.16 246.29,315.65 246.29,322.67" fill="#e4007f"/>
<polygon points="242.7,316.83 248.94,313.32 248.94,320.34" fill="#e4007f"/>
<polygon points="245.1,314.74 251.34,311.23 251.34,318.25" fill="#e4007f"/>
<polygon points="247.28,314.18 253.52,310.67 253.52,317.69" fill="#e4007f"/>
<polygon points="249.3,313.67 255.54,310.16 255.54,317.18" fill="#e4007f"/>
<polygon points="251.16,313.19 257.4,309.68 257.4,316.7" fill="#e4007f"/>
<polygon points="252.9,312.75 259.14,309.24 259.14,316.26" fill="#e4007f"/>
<path d="M72.9,430.04 L74.43,429.84 L75.96,429.62 L77.5,429.39 L79.03,429.15 L80.56,428.88 L82.09,428.61 L83.63,428.31 L85.16,428 L86.69,427.67 L88.22,427.31 L89.76,426.94 L91.29,426.54 L92.82,426.12 L94.35,425.67 L95.89,425.19 L97.42,424.68 L98.95,424.14 L100.48,423.57 L102.02,422.96 L103.55,422.31 L105.08,421.62 L106.61,420.89 L108.15,420.12 L109.68,419.3 L111.21,418.43 L112.74,417.5 L114.28,416.52 L115.81,415.48 L117.34,414.38 L118.87,413.21 L120.41,411.97 L121.94,410.66 L123.47,409.27 L125,407.8 L126.54,406.25 L128.07,404.61 L129.6,402.88 L131.13,401.05 L132.67,399.13 L134.2,397.1 L135.73,394.97 L137.26,392.73 L138.8,390.38 L140.33,387.92 L141.86,385.35 L143.39,382.67 L144.93,379.88 L146.46,376.99 L147.99,373.99 L149.52,370.9 L151.06,367.72 L152.59,364.46 L154.12,361.14 L155.65,357.76 L157.19,354.34 L158.72,350.91 L160.25,347.48 L161.78,344.07 L163.32,340.71 L164.85,337.41 L166.38,334.22 L167.91,331.15 L169.45,328.22 L170.98,325.47 L172.51,322.92 L174.04,320.57 L175.58,318.47 L177.11,316.61 L178.64,315.02 L180.17,313.7 L181.7,312.66 L183.24,311.9 L184.77,311.42 L186.3,311.22 L187.83,311.35 L189.37,312 L190.9,313.17 L192.43,314.81 L193.96,316.9 L195.5,319.4 L197.03,322.27 L198.56,325.44 L200.09,328.87 L201.63,332.51 L203.16,336.31 L204.69,340.22 L206.22,344.19 L207.76,348.19 L209.29,352.18 L210.82,356.13 L212.35,360.01 L213.89,363.81 L215.42,367.5 L216.95,371.07 L218.48,374.51 L220.02,377.82 L221.55,380.99 L223.08,384.01 L224.61,386.9 L226.15,389.64 L227.68,392.24 L229.21,394.71 L230.74,397.04 L232.28,399.25 L233.81,401.33 L235.34,403.29 L236.87,405.14 L238.41,406.89 L239.94,408.52 L241.47,410.07 L243,411.52 L244.54,412.88 L246.07,414.16 L247.6,415.36 L249.13,416.48 L250.67,417.54 L252.2,418.53 L253.73,419.46 L255.26,420.34 L256.8,421.15" fill="none" stroke="#000000" stroke-width="1.8" stroke-linejoin="round"/>
<path d="M72.9,431.42 L74.43,431.31 L75.96,431.18 L77.5,431.05 L79.03,430.91 L80.56,430.76 L82.09,430.6 L83.63,430.43 L85.16,430.25 L86.69,430.05 L88.22,429.85 L89.76,429.63 L91.29,429.4 L92.82,429.16 L94.35,428.9 L95.89,428.62 L97.42,428.33 L98.95,428.02 L100.48,427.68 L102.02,427.33 L103.55,426.96 L105.08,426.56 L106.61,426.14 L108.15,425.69 L109.68,425.21 L111.21,424.7 L112.74,424.16 L114.28,423.59 L115.81,422.99 L117.34,422.34 L118.87,421.66 L120.41,420.93 L121.94,420.16 L123.47,419.34 L125,418.47 L126.54,417.54 L128.07,416.57 L129.6,415.53 L131.13,414.43 L132.67,413.26 L134.2,412.02 L135.73,410.71 L137.26,409.33 L138.8,407.86 L140.33,406.31 L141.86,404.67 L143.39,402.94 L144.93,401.11 L146.46,399.18 L147.99,397.15 L149.52,395.02 L151.06,392.77 L152.59,390.41 L154.12,387.95 L155.65,385.36 L157.19,382.67 L158.72,379.86 L160.25,376.94 L161.78,373.92 L163.32,370.79 L164.85,367.58 L166.38,364.27 L167.91,360.89 L169.45,357.45 L170.98,353.97 L172.51,350.46 L174.04,346.94 L175.58,343.43 L177.11,339.96 L178.64,336.56 L180.17,333.24 L181.7,330.03 L183.24,326.96 L184.77,324.06 L186.3,321.35 L187.83,318.85 L189.37,316.59 L190.9,314.57 L192.43,312.82 L193.96,311.34 L195.5,310.14 L197.03,309.24 L198.56,308.62 L200.09,308.29 L201.63,308.23 L203.16,308.65 L204.69,309.57 L206.22,310.98 L207.76,312.85 L209.29,315.13 L210.82,317.81 L212.35,320.81 L213.89,324.1 L215.42,327.63 L216.95,331.34 L218.48,335.19 L220.02,339.14 L221.55,343.13 L223.08,347.14 L224.61,351.14 L226.15,355.08 L227.68,358.96 L229.21,362.75 L230.74,366.43 L232.28,370 L233.81,373.43 L235.34,376.74 L236.87,379.91 L238.41,382.93 L239.94,385.82 L241.47,388.57 L243,391.18 L244.54,393.66 L246.07,396.01 L247.6,398.23 L249.13,400.33 L250.67,402.31 L252.2,404.18 L253.73,405.95 L255.26,407.61 L256.8,409.17" fill="none" stroke="#e60012" stroke-width="1.8" stroke-linejoin="round"/>
<path d="M72.9,432.22 L74.43,432.15 L75.96,432.08 L77.5,432 L79.03,431.92 L80.56,431.83 L82.09,431.74 L83.63,431.64 L85.16,431.54 L86.69,431.43 L88.22,431.31 L89.76,431.19 L91.29,431.05 L92.82,430.91 L94.35,430.76 L95.89,430.6 L97.42,430.44 L98.95,430.26 L100.48,430.06 L102.02,429.86 L103.55,429.64 L105.08,429.42 L106.61,429.17 L108.15,428.91 L109.68,428.64 L111.21,428.34 L112.74,428.03 L114.28,427.7 L115.81,427.35 L117.34,426.98 L118.87,426.58 L120.41,426.16 L121.94,425.71 L123.47,425.24 L125,424.73 L126.54,424.19 L128.07,423.62 L129.6,423.02 L131.13,422.38 L132.67,421.69 L134.2,420.97 L135.73,420.2 L137.26,419.38 L138.8,418.51 L140.33,417.59 L141.86,416.62 L143.39,415.58 L144.93,414.48 L146.46,413.32 L147.99,412.09 L149.52,410.78 L151.06,409.4 L152.59,407.93 L154.12,406.39 L155.65,404.75 L157.19,403.02 L158.72,401.19 L160.25,399.27 L161.78,397.24 L163.32,395.11 L164.85,392.86 L166.38,390.51 L167.91,388.04 L169.45,385.45 L170.98,382.75 L172.51,379.94 L174.04,377.01 L175.58,373.98 L177.11,370.84 L178.64,367.61 L180.17,364.28 L181.7,360.88 L183.24,357.41 L184.77,353.9 L186.3,350.35 L187.83,346.78 L189.37,343.23 L190.9,339.7 L192.43,336.23 L193.96,332.85 L195.5,329.57 L197.03,326.43 L198.56,323.45 L200.09,320.65 L201.63,318.06 L203.16,315.7 L204.69,313.6 L206.22,311.75 L207.76,310.18 L209.29,308.9 L210.82,307.91 L212.35,307.21 L213.89,306.8 L215.42,306.66 L216.95,306.93 L218.48,307.68 L220.02,308.91 L221.55,310.58 L223.08,312.67 L224.61,315.13 L226.15,317.94 L227.68,321.04 L229.21,324.39 L230.74,327.94 L232.28,331.64 L233.81,335.46 L235.34,339.36 L236.87,343.29 L238.41,347.22 L239.94,351.13 L241.47,354.99 L243,358.78 L244.54,362.48 L246.07,366.08 L247.6,369.56 L249.13,372.93 L250.67,376.16 L252.2,379.27 L253.73,382.24 L255.26,385.08 L256.8,387.79" fill="none" stroke="#009944" stroke-width="1.8" stroke-linejoin="round"/>
<path d="M72.9,432.67 L74.43,432.63 L75.96,432.59 L77.5,432.54 L79.03,432.5 L80.56,432.45 L82.09,432.39 L83.63,432.34 L85.16,432.28 L86.69,432.21 L88.22,432.14 L89.76,432.07 L91.29,431.99 L92.82,431.91 L94.35,431.82 L95.89,431.73 L97.42,431.63 L98.95,431.53 L100.48,431.42 L102.02,431.3 L103.55,431.17 L105.08,431.04 L106.61,430.9 L108.15,430.75 L109.68,430.59 L111.21,430.41 L112.74,430.23 L114.28,430.04 L115.81,429.84 L117.34,429.62 L118.87,429.39 L120.41,429.14 L121.94,428.88 L123.47,428.6 L125,428.31 L126.54,427.99 L128.07,427.66 L129.6,427.31 L131.13,426.93 L132.67,426.53 L134.2,426.11 L135.73,425.66 L137.26,425.18 L138.8,424.67 L140.33,424.13 L141.86,423.55 L143.39,422.94 L144.93,422.3 L146.46,421.61 L147.99,420.88 L149.52,420.1 L151.06,419.28 L152.59,418.41 L154.12,417.48 L155.65,416.5 L157.19,415.45 L158.72,414.35 L160.25,413.18 L161.78,411.93 L163.32,410.62 L164.85,409.22 L166.38,407.75 L167.91,406.19 L169.45,404.54 L170.98,402.8 L172.51,400.96 L174.04,399.02 L175.58,396.97 L177.11,394.82 L178.64,392.56 L180.17,390.18 L181.7,387.69 L183.24,385.09 L184.77,382.37 L186.3,379.53 L187.83,376.58 L189.37,373.52 L190.9,370.35 L192.43,367.08 L193.96,363.73 L195.5,360.29 L197.03,356.79 L198.56,353.23 L200.09,349.65 L201.63,346.04 L203.16,342.45 L204.69,338.88 L206.22,335.37 L207.76,331.93 L209.29,328.61 L210.82,325.42 L212.35,322.39 L213.89,319.55 L215.42,316.92 L216.95,314.52 L218.48,312.37 L220.02,310.49 L221.55,308.88 L223.08,307.56 L224.61,306.54 L226.15,305.81 L227.68,305.38 L229.21,305.23 L230.74,305.46 L232.28,306.21 L233.81,307.44 L235.34,309.13 L236.87,311.26 L238.41,313.77 L239.94,316.64 L241.47,319.81 L243,323.23 L244.54,326.87 L246.07,330.66 L247.6,334.57 L249.13,338.55 L250.67,342.57 L252.2,346.59 L253.73,350.58 L255.26,354.51 L256.8,358.38" fill="none" stroke="#1d2088" stroke-width="1.8" stroke-linejoin="round"/>
<path d="M72.9,432.93 L74.43,432.9 L75.96,432.88 L77.5,432.85 L79.03,432.82 L80.56,432.79 L82.09,432.76 L83.63,432.73 L85.16,432.69 L86.69,432.65 L88.22,432.61 L89.76,432.57 L91.29,432.52 L92.82,432.48 L94.35,432.42 L95.89,432.37 L97.42,432.31 L98.95,432.25 L100.48,432.18 L102.02,432.11 L103.55,432.04 L105.08,431.96 L106.61,431.87 L108.15,431.78 L109.68,431.69 L111.21,431.59 L112.74,431.48 L114.28,431.37 L115.81,431.24 L117.34,431.11 L118.87,430.98 L120.41,430.83 L121.94,430.68 L123.47,430.51 L125,430.34 L126.54,430.15 L128.07,429.95 L129.6,429.74 L131.13,429.52 L132.67,429.28 L134.2,429.03 L135.73,428.76 L137.26,428.47 L138.8,428.17 L140.33,427.85 L141.86,427.51 L143.39,427.14 L144.93,426.76 L146.46,426.35 L147.99,425.91 L149.52,425.45 L151.06,424.96 L152.59,424.43 L154.12,423.88 L155.65,423.29 L157.19,422.66 L158.72,422 L160.25,421.29 L161.78,420.54 L163.32,419.75 L164.85,418.9 L166.38,418 L167.91,417.05 L169.45,416.04 L170.98,414.97 L172.51,413.84 L174.04,412.64 L175.58,411.36 L177.11,410.01 L178.64,408.58 L180.17,407.07 L181.7,405.47 L183.24,403.78 L184.77,402 L186.3,400.12 L187.83,398.13 L189.37,396.04 L190.9,393.84 L192.43,391.53 L193.96,389.11 L195.5,386.57 L197.03,383.92 L198.56,381.15 L200.09,378.26 L201.63,375.26 L203.16,372.16 L204.69,368.95 L206.22,365.65 L207.76,362.27 L209.29,358.81 L210.82,355.29 L212.35,351.73 L213.89,348.14 L215.42,344.55 L216.95,340.98 L218.48,337.45 L220.02,333.99 L221.55,330.62 L223.08,327.37 L224.61,324.27 L226.15,321.34 L227.68,318.61 L229.21,316.1 L230.74,313.83 L232.28,311.82 L233.81,310.08 L235.34,308.62 L236.87,307.45 L238.41,306.58 L239.94,306 L241.47,305.71 L243,305.73 L244.54,306.33 L246.07,307.53 L247.6,309.29 L249.13,311.58 L250.67,314.35 L252.2,317.54 L253.73,321.08 L255.26,324.92 L256.8,328.99" fill="none" stroke="#00a0e9" stroke-width="1.8" stroke-linejoin="round"/>
<path d="M72.9,433.08 L74.43,433.07 L75.96,433.05 L77.5,433.04 L79.03,433.02 L80.56,433 L82.09,432.98 L83.63,432.96 L85.16,432.94 L86.69,432.92 L88.22,432.9 L89.76,432.87 L91.29,432.84 L92.82,432.82 L94.35,432.79 L95.89,432.75 L97.42,432.72 L98.95,432.68 L100.48,432.64 L102.02,432.6 L103.55,432.56 L105.08,432.51 L106.61,432.46 L108.15,432.41 L109.68,432.35 L111.21,432.29 L112.74,432.23 L114.28,432.16 L115.81,432.09 L117.34,432.02 L118.87,431.94 L120.41,431.85 L121.94,431.76 L123.47,431.66 L125,431.56 L126.54,431.45 L128.07,431.33 L129.6,431.21 L131.13,431.08 L132.67,430.94 L134.2,430.79 L135.73,430.63 L137.26,430.47 L138.8,430.29 L140.33,430.1 L141.86,429.9 L143.39,429.68 L144.93,429.46 L146.46,429.21 L147.99,428.96 L149.52,428.69 L151.06,428.4 L152.59,428.09 L154.12,427.76 L155.65,427.41 L157.19,427.04 L158.72,426.65 L160.25,426.23 L161.78,425.79 L163.32,425.32 L164.85,424.82 L166.38,424.29 L167.91,423.73 L169.45,423.13 L170.98,422.49 L172.51,421.82 L174.04,421.1 L175.58,420.34 L177.11,419.53 L178.64,418.67 L180.17,417.76 L181.7,416.8 L183.24,415.77 L184.77,414.69 L186.3,413.54 L187.83,412.32 L189.37,411.03 L190.9,409.66 L192.43,408.21 L193.96,406.68 L195.5,405.07 L197.03,403.36 L198.56,401.56 L200.09,399.66 L201.63,397.65 L203.16,395.55 L204.69,393.34 L206.22,391.01 L207.76,388.58 L209.29,386.04 L210.82,383.38 L212.35,380.62 L213.89,377.74 L215.42,374.76 L216.95,371.69 L218.48,368.52 L220.02,365.26 L221.55,361.94 L223.08,358.56 L224.61,355.13 L226.15,351.68 L227.68,348.21 L229.21,344.77 L230.74,341.36 L232.28,338.01 L233.81,334.76 L235.34,331.61 L236.87,328.6 L238.41,325.76 L239.94,323.1 L241.47,320.66 L243,318.44 L244.54,316.47 L246.07,314.76 L247.6,313.32 L249.13,312.16 L250.67,311.29 L252.2,310.69 L253.73,310.38 L255.26,310.34 L256.8,310.74" fill="none" stroke="#e4007f" stroke-width="1.8" stroke-linejoin="round"/>
</g>
<rect x="57.6" y="255.7" width="213.6" height="188.6" fill="none" stroke="#231815" stroke-width="1.4"/>
<line x1="57.6" y1="433.3" x2="60.6" y2="433.3" stroke="#231815" stroke-width="1.2"/>
<text x="54.4" y="437.3" font-family="'Liberation Serif','Times New Roman',serif" font-size="11.5" text-anchor="end" fill="#231815">0</text>
<line x1="57.6" y1="411.14" x2="60.6" y2="411.14" stroke="#231815" stroke-width="1.2"/>
<text x="54.4" y="415.14" font-family="'Liberation Serif','Times New Roman',serif" font-size="11.5" text-anchor="end" fill="#231815">20</text>
<line x1="57.6" y1="388.98" x2="60.6" y2="388.98" stroke="#231815" stroke-width="1.2"/>
<text x="54.4" y="392.98" font-family="'Liberation Serif','Times New Roman',serif" font-size="11.5" text-anchor="end" fill="#231815">40</text>
<line x1="57.6" y1="366.82" x2="60.6" y2="366.82" stroke="#231815" stroke-width="1.2"/>
<text x="54.4" y="370.82" font-family="'Liberation Serif','Times New Roman',serif" font-size="11.5" text-anchor="end" fill="#231815">60</text>
<line x1="57.6" y1="344.66" x2="60.6" y2="344.66" stroke="#231815" stroke-width="1.2"/>
<text x="54.4" y="348.66" font-family="'Liberation Serif','Times New Roman',serif" font-size="11.5" text-anchor="end" fill="#231815">80</text>
<line x1="57.6" y1="322.5" x2="60.6" y2="322.5" stroke="#231815" stroke-width="1.2"/>
<text x="54.4" y="326.5" font-family="'Liberation Serif','Times New Roman',serif" font-size="11.5" text-anchor="end" fill="#231815">100</text>
<line x1="57.6" y1="300.34" x2="60.6" y2="300.34" stroke="#231815" stroke-width="1.2"/>
<text x="54.4" y="304.34" font-family="'Liberation Serif','Times New Roman',serif" font-size="11.5" text-anchor="end" fill="#231815">120</text>
<line x1="57.6" y1="278.18" x2="60.6" y2="278.18" stroke="#231815" stroke-width="1.2"/>
<text x="54.4" y="282.18" font-family="'Liberation Serif','Times New Roman',serif" font-size="11.5" text-anchor="end" fill="#231815">140</text>
<line x1="57.6" y1="256.02" x2="60.6" y2="256.02" stroke="#231815" stroke-width="1.2"/>
<text x="54.4" y="260.02" font-family="'Liberation Serif','Times New Roman',serif" font-size="11.5" text-anchor="end" fill="#231815">160</text>
<line x1="63.93" y1="444.3" x2="63.93" y2="441.7" stroke="#231815" stroke-width="1.1"/>
<line x1="68.81" y1="444.3" x2="68.81" y2="441.7" stroke="#231815" stroke-width="1.1"/>
<line x1="72.9" y1="444.3" x2="72.9" y2="439.7" stroke="#231815" stroke-width="1.1"/>
<text x="73.2" y="461.4" text-anchor="middle" font-family="'Liberation Serif','Times New Roman',serif" font-size="11.5" fill="#231815">10<tspan font-size="7.2" dy="-5.3">3</tspan></text>
<line x1="95.94" y1="444.3" x2="95.94" y2="441.7" stroke="#231815" stroke-width="1.1"/>
<line x1="107.76" y1="444.3" x2="107.76" y2="441.7" stroke="#231815" stroke-width="1.1"/>
<line x1="115.77" y1="444.3" x2="115.77" y2="441.7" stroke="#231815" stroke-width="1.1"/>
<line x1="121.83" y1="444.3" x2="121.83" y2="441.7" stroke="#231815" stroke-width="1.1"/>
<line x1="126.71" y1="444.3" x2="126.71" y2="441.7" stroke="#231815" stroke-width="1.1"/>
<line x1="130.8" y1="444.3" x2="130.8" y2="439.7" stroke="#231815" stroke-width="1.1"/>
<text x="131.1" y="461.4" text-anchor="middle" font-family="'Liberation Serif','Times New Roman',serif" font-size="11.5" fill="#231815">10<tspan font-size="7.2" dy="-5.3">4</tspan></text>
<line x1="153.84" y1="444.3" x2="153.84" y2="441.7" stroke="#231815" stroke-width="1.1"/>
<line x1="165.66" y1="444.3" x2="165.66" y2="441.7" stroke="#231815" stroke-width="1.1"/>
<line x1="173.67" y1="444.3" x2="173.67" y2="441.7" stroke="#231815" stroke-width="1.1"/>
<line x1="179.73" y1="444.3" x2="179.73" y2="441.7" stroke="#231815" stroke-width="1.1"/>
<line x1="184.61" y1="444.3" x2="184.61" y2="441.7" stroke="#231815" stroke-width="1.1"/>
<line x1="188.7" y1="444.3" x2="188.7" y2="439.7" stroke="#231815" stroke-width="1.1"/>
<text x="189" y="461.4" text-anchor="middle" font-family="'Liberation Serif','Times New Roman',serif" font-size="11.5" fill="#231815">10<tspan font-size="7.2" dy="-5.3">5</tspan></text>
<line x1="211.74" y1="444.3" x2="211.74" y2="441.7" stroke="#231815" stroke-width="1.1"/>
<line x1="223.56" y1="444.3" x2="223.56" y2="441.7" stroke="#231815" stroke-width="1.1"/>
<line x1="231.57" y1="444.3" x2="231.57" y2="441.7" stroke="#231815" stroke-width="1.1"/>
<line x1="237.63" y1="444.3" x2="237.63" y2="441.7" stroke="#231815" stroke-width="1.1"/>
<line x1="242.51" y1="444.3" x2="242.51" y2="441.7" stroke="#231815" stroke-width="1.1"/>
<line x1="246.6" y1="444.3" x2="246.6" y2="439.7" stroke="#231815" stroke-width="1.1"/>
<text x="246.9" y="461.4" text-anchor="middle" font-family="'Liberation Serif','Times New Roman',serif" font-size="11.5" fill="#231815">10<tspan font-size="7.2" dy="-5.3">6</tspan></text>
<line x1="269.64" y1="444.3" x2="269.64" y2="441.7" stroke="#231815" stroke-width="1.1"/>
<text x="164.9" y="473.5" font-family="'Liberation Serif','Times New Roman',serif" font-size="15.15" text-anchor="middle" font-weight="bold" fill="#231815">Frequency (Hz)</text>
<text transform="translate(34.2,350) rotate(-90)" text-anchor="middle" font-family="'Liberation Serif','Times New Roman',serif" font-size="15" font-weight="bold" fill="#231815"><tspan font-style="italic">G/ω</tspan> (nF/cm<tspan font-size="9.5" dy="-6">2</tspan><tspan dy="6">)</tspan></text>
<rect x="70.48" y="266.08" width="6.03" height="6.03" fill="#000000"/>
<text x="90" y="273.1" font-family="'Liberation Serif','Times New Roman',serif" font-size="11.8" fill="#231815">0.405 V</text>
<circle cx="73.5" cy="283.8" r="3.71" fill="#e60012"/>
<text x="90" y="287.8" font-family="'Liberation Serif','Times New Roman',serif" font-size="11.8" fill="#e60012">0.42 V</text>
<polygon points="73.5,293.98 77.57,301.21 69.43,301.21" fill="#009944"/>
<text x="90" y="302.5" font-family="'Liberation Serif','Times New Roman',serif" font-size="11.8" fill="#009944">0.435 V</text>
<polygon points="73.5,317.72 77.57,310.49 69.43,310.49" fill="#1d2088"/>
<text x="90" y="317.2" font-family="'Liberation Serif','Times New Roman',serif" font-size="11.8" fill="#1d2088">0.45 V</text>
<polygon points="73.5,323.84 77.56,327.9 73.5,331.96 69.44,327.9" fill="#00a0e9"/>
<text x="90" y="331.9" font-family="'Liberation Serif','Times New Roman',serif" font-size="11.8" fill="#00a0e9">0.465 V</text>
<polygon points="68.98,342.6 76.21,338.53 76.21,346.67" fill="#e4007f"/>
<text x="90" y="346.6" font-family="'Liberation Serif','Times New Roman',serif" font-size="11.8" fill="#e4007f">0.48 V</text>
<text x="197.4" y="276" font-family="'Liberation Serif','Times New Roman',serif" font-size="14.65" fill="#231815">AND-SBD</text>
<text x="7.2" y="260" font-family="'Liberation Serif','Times New Roman',serif" font-size="17" fill="#231815">(d)</text>
<rect x="332.8" y="255.1" width="212" height="187.2" fill="none" stroke="#231815" stroke-width="1.4"/>
<polyline points="366.4,281.9 375.6,310.9 384.6,326.8 393.8,347.4 402.5,367.7 411.8,386.2" fill="none" stroke="#1d2088" stroke-width="1.5" stroke-linejoin="round" stroke-linecap="round"/>
<rect x="364" y="279.5" width="4.8" height="4.8" fill="#fff" stroke="#1d2088" stroke-width="1.1"/>
<rect x="373.2" y="308.5" width="4.8" height="4.8" fill="#fff" stroke="#1d2088" stroke-width="1.1"/>
<rect x="382.2" y="324.4" width="4.8" height="4.8" fill="#fff" stroke="#1d2088" stroke-width="1.1"/>
<rect x="391.4" y="345" width="4.8" height="4.8" fill="#fff" stroke="#1d2088" stroke-width="1.1"/>
<rect x="400.1" y="365.3" width="4.8" height="4.8" fill="#fff" stroke="#1d2088" stroke-width="1.1"/>
<rect x="409.4" y="383.8" width="4.8" height="4.8" fill="#fff" stroke="#1d2088" stroke-width="1.1"/>
<polyline points="457,326.4 466.3,348.5 475.2,372 484.3,393.6 493.2,412.6 502.6,428.3" fill="none" stroke="#e60012" stroke-width="1.5" stroke-linejoin="round" stroke-linecap="round"/>
<circle cx="457" cy="326.4" r="2.6" fill="#fff" stroke="#e60012" stroke-width="1.2"/>
<circle cx="466.3" cy="348.5" r="2.6" fill="#fff" stroke="#e60012" stroke-width="1.2"/>
<circle cx="475.2" cy="372" r="2.6" fill="#fff" stroke="#e60012" stroke-width="1.2"/>
<circle cx="484.3" cy="393.6" r="2.6" fill="#fff" stroke="#e60012" stroke-width="1.2"/>
<circle cx="493.2" cy="412.6" r="2.6" fill="#fff" stroke="#e60012" stroke-width="1.2"/>
<circle cx="502.6" cy="428.3" r="2.6" fill="#fff" stroke="#e60012" stroke-width="1.2"/>
<text x="327.5" y="260" text-anchor="end" font-family="'Liberation Serif','Times New Roman',serif" font-size="14" fill="#231815">10<tspan font-size="9" dy="-6.2">-5</tspan></text>
<line x1="332.8" y1="348.6" x2="336.8" y2="348.6" stroke="#231815" stroke-width="1.2"/>
<text x="327.5" y="353.5" text-anchor="end" font-family="'Liberation Serif','Times New Roman',serif" font-size="14" fill="#231815">10<tspan font-size="9" dy="-6.2">-6</tspan></text>
<text x="327.5" y="447.2" text-anchor="end" font-family="'Liberation Serif','Times New Roman',serif" font-size="14" fill="#231815">10<tspan font-size="9" dy="-6.2">-7</tspan></text>
<text x="333" y="459.7" font-family="'Liberation Serif','Times New Roman',serif" font-size="14" text-anchor="middle" fill="#231815">0.2</text>
<line x1="393.4" y1="442.3" x2="393.4" y2="438.3" stroke="#231815" stroke-width="1.2"/>
<text x="393.6" y="459.7" font-family="'Liberation Serif','Times New Roman',serif" font-size="14" text-anchor="middle" fill="#231815">0.3</text>
<line x1="454" y1="442.3" x2="454" y2="438.3" stroke="#231815" stroke-width="1.2"/>
<text x="454.2" y="459.7" font-family="'Liberation Serif','Times New Roman',serif" font-size="14" text-anchor="middle" fill="#231815">0.4</text>
<line x1="514.6" y1="442.3" x2="514.6" y2="438.3" stroke="#231815" stroke-width="1.2"/>
<text x="514.8" y="459.7" font-family="'Liberation Serif','Times New Roman',serif" font-size="14" text-anchor="middle" fill="#231815">0.5</text>
<text x="438.8" y="480.6" font-family="'Liberation Serif','Times New Roman',serif" font-size="15.5" text-anchor="middle" font-weight="bold" fill="#231815">Voltage (V)</text>
<text transform="translate(300.4,348.7) rotate(-90)" x="0" y="0" text-anchor="middle" font-family="'Liberation Serif','Times New Roman',serif" font-size="15" font-weight="bold" fill="#231815">Time constant (s)</text>
<line x1="444.9" y1="269.6" x2="475.8" y2="269.6" stroke="#1d2088" stroke-width="1.5"/>
<rect x="458" y="267.2" width="4.8" height="4.8" fill="#fff" stroke="#1d2088" stroke-width="1.1"/>
<text x="479.6" y="273.7" font-family="'Liberation Serif','Times New Roman',serif" font-size="13.1" fill="#231815">REF-SBD</text>
<line x1="444.9" y1="286.1" x2="475.8" y2="286.1" stroke="#e60012" stroke-width="1.5"/>
<circle cx="460.4" cy="286.1" r="2.6" fill="#fff" stroke="#e60012" stroke-width="1.2"/>
<text x="479.6" y="290.2" font-family="'Liberation Serif','Times New Roman',serif" font-size="13.1" fill="#231815">AND-SBD</text>
<line x1="410.6" y1="354.3" x2="447" y2="352.9" stroke="#000" stroke-width="2.4"/>
<polygon points="457.2,352.5 445.2,348.3 446.5,353.0 445.6,357.5" fill="#000"/>
<text x="280.5" y="260" font-family="'Liberation Serif','Times New Roman',serif" font-size="17" fill="#231815">(e)</text>
<rect x="606.2" y="256.4" width="211.7" height="188.4" fill="none" stroke="#231815" stroke-width="1.4"/>
<polyline points="676.4,316.5 697.8,317 720.5,317.8 743.6,319.2 761.1,321.2 792.7,337" fill="none" stroke="#1d2088" stroke-width="1.5" stroke-linejoin="round" stroke-linecap="round"/>
<rect x="674" y="314.1" width="4.8" height="4.8" fill="#fff" stroke="#1d2088" stroke-width="1.1"/>
<rect x="695.4" y="314.6" width="4.8" height="4.8" fill="#fff" stroke="#1d2088" stroke-width="1.1"/>
<rect x="718.1" y="315.4" width="4.8" height="4.8" fill="#fff" stroke="#1d2088" stroke-width="1.1"/>
<rect x="741.2" y="316.8" width="4.8" height="4.8" fill="#fff" stroke="#1d2088" stroke-width="1.1"/>
<rect x="758.7" y="318.8" width="4.8" height="4.8" fill="#fff" stroke="#1d2088" stroke-width="1.1"/>
<rect x="790.3" y="334.6" width="4.8" height="4.8" fill="#fff" stroke="#1d2088" stroke-width="1.1"/>
<polyline points="629,408.2 646.8,402.2 667.9,402.2 692.2,403.9 718.5,404.1 743.6,406.5" fill="none" stroke="#e60012" stroke-width="1.5" stroke-linejoin="round" stroke-linecap="round"/>
<circle cx="629" cy="408.2" r="2.6" fill="#fff" stroke="#e60012" stroke-width="1.2"/>
<circle cx="646.8" cy="402.2" r="2.6" fill="#fff" stroke="#e60012" stroke-width="1.2"/>
<circle cx="667.9" cy="402.2" r="2.6" fill="#fff" stroke="#e60012" stroke-width="1.2"/>
<circle cx="692.2" cy="403.9" r="2.6" fill="#fff" stroke="#e60012" stroke-width="1.2"/>
<circle cx="718.5" cy="404.1" r="2.6" fill="#fff" stroke="#e60012" stroke-width="1.2"/>
<circle cx="743.6" cy="406.5" r="2.6" fill="#fff" stroke="#e60012" stroke-width="1.2"/>
<line x1="606.2" y1="431.5" x2="610.2" y2="431.5" stroke="#231815" stroke-width="1.2"/>
<text x="602.7" y="435.6" font-family="'Liberation Serif','Times New Roman',serif" font-size="11.5" text-anchor="end" fill="#231815">1.0</text>
<line x1="606.2" y1="397.9" x2="610.2" y2="397.9" stroke="#231815" stroke-width="1.2"/>
<text x="602.7" y="402" font-family="'Liberation Serif','Times New Roman',serif" font-size="11.5" text-anchor="end" fill="#231815">1.5</text>
<line x1="606.2" y1="364.3" x2="610.2" y2="364.3" stroke="#231815" stroke-width="1.2"/>
<text x="602.7" y="368.4" font-family="'Liberation Serif','Times New Roman',serif" font-size="11.5" text-anchor="end" fill="#231815">2.0</text>
<line x1="606.2" y1="330.7" x2="610.2" y2="330.7" stroke="#231815" stroke-width="1.2"/>
<text x="602.7" y="334.8" font-family="'Liberation Serif','Times New Roman',serif" font-size="11.5" text-anchor="end" fill="#231815">2.5</text>
<line x1="606.2" y1="297.1" x2="610.2" y2="297.1" stroke="#231815" stroke-width="1.2"/>
<text x="602.7" y="301.2" font-family="'Liberation Serif','Times New Roman',serif" font-size="11.5" text-anchor="end" fill="#231815">3.0</text>
<line x1="606.2" y1="263.5" x2="610.2" y2="263.5" stroke="#231815" stroke-width="1.2"/>
<text x="602.7" y="267.6" font-family="'Liberation Serif','Times New Roman',serif" font-size="11.5" text-anchor="end" fill="#231815">3.5</text>
<line x1="623.4" y1="444.8" x2="623.4" y2="440.8" stroke="#231815" stroke-width="1.2"/>
<text x="623.4" y="460.3" font-family="'Liberation Serif','Times New Roman',serif" font-size="11.5" text-anchor="middle" fill="#231815">0.18</text>
<line x1="658.7" y1="444.8" x2="658.7" y2="440.8" stroke="#231815" stroke-width="1.2"/>
<text x="658.7" y="460.3" font-family="'Liberation Serif','Times New Roman',serif" font-size="11.5" text-anchor="middle" fill="#231815">0.20</text>
<line x1="694" y1="444.8" x2="694" y2="440.8" stroke="#231815" stroke-width="1.2"/>
<text x="694" y="460.3" font-family="'Liberation Serif','Times New Roman',serif" font-size="11.5" text-anchor="middle" fill="#231815">0.22</text>
<line x1="729.3" y1="444.8" x2="729.3" y2="440.8" stroke="#231815" stroke-width="1.2"/>
<text x="729.3" y="460.3" font-family="'Liberation Serif','Times New Roman',serif" font-size="11.5" text-anchor="middle" fill="#231815">0.24</text>
<line x1="764.6" y1="444.8" x2="764.6" y2="440.8" stroke="#231815" stroke-width="1.2"/>
<text x="764.6" y="460.3" font-family="'Liberation Serif','Times New Roman',serif" font-size="11.5" text-anchor="middle" fill="#231815">0.26</text>
<line x1="799.9" y1="444.8" x2="799.9" y2="440.8" stroke="#231815" stroke-width="1.2"/>
<text x="799.9" y="460.3" font-family="'Liberation Serif','Times New Roman',serif" font-size="11.5" text-anchor="middle" fill="#231815">0.28</text>
<text x="712.05" y="478.8" text-anchor="middle" font-family="'Liberation Serif','Times New Roman',serif" font-size="15" font-weight="bold" fill="#231815"><tspan font-style="italic">E</tspan><tspan font-size="10" dy="3.5">T</tspan><tspan dy="-3.5"> (eV)</tspan></text>
<text transform="translate(575.8,349.6) rotate(-90)" text-anchor="middle" font-family="'Liberation Serif','Times New Roman',serif" font-size="15.4" font-weight="bold" fill="#231815"><tspan font-style="italic">D</tspan><tspan font-size="10" dy="3.5">T</tspan><tspan dy="-3.5"> (×10</tspan><tspan font-size="9.5" dy="-6">12</tspan><tspan dy="6"> cm</tspan><tspan font-size="9.5" dy="-6">-2</tspan><tspan dy="6">·eV</tspan><tspan font-size="9.5" dy="-6">-1</tspan><tspan dy="6">)</tspan></text>
<line x1="718.3" y1="274.2" x2="748.7" y2="274.2" stroke="#1d2088" stroke-width="1.5"/>
<rect x="731.1" y="271.8" width="4.8" height="4.8" fill="#fff" stroke="#1d2088" stroke-width="1.1"/>
<text x="752.8" y="278.7" font-family="'Liberation Serif','Times New Roman',serif" font-size="13.1" fill="#231815">REF-SBD</text>
<line x1="718.3" y1="291.2" x2="748.7" y2="291.2" stroke="#e60012" stroke-width="1.5"/>
<circle cx="733.5" cy="291.2" r="2.6" fill="#fff" stroke="#e60012" stroke-width="1.2"/>
<text x="752.8" y="295.7" font-family="'Liberation Serif','Times New Roman',serif" font-size="13.1" fill="#231815">AND-SBD</text>
<path d="M718.5,333.6 C721.5,350 716,366 705.5,379.5" fill="none" stroke="#000" stroke-width="2.4"/>
<polygon points="699.8,388.8 700.6,376.5 704.6,380.2 709.4,382.2" fill="#000"/>
<text x="556" y="260" font-family="'Liberation Serif','Times New Roman',serif" font-size="17" fill="#231815">(f)</text>
<g opacity="0.34">
<ellipse cx="527" cy="455.2" rx="10.8" ry="9.1" fill="#000"/>
<path d="M519.2,461 L518.6,466 L525,463.2 Z" fill="#000"/>
<ellipse cx="537.7" cy="462.2" rx="9.7" ry="7.9" fill="#000" stroke="#fff" stroke-width="1.3"/>
<path d="M540.5,468.8 L544,471.3 L544.8,466.6 Z" fill="#000"/>
<g fill="#fff"><circle cx="523.7" cy="451.9" r="1.35"/><circle cx="531.2" cy="451.9" r="1.35"/><circle cx="534.5" cy="459.8" r="1.2"/><circle cx="540.8" cy="459.8" r="1.2"/></g>
</g>
<g font-family="'Liberation Sans','Noto Sans CJK SC','WenQuanYi Zen Hei',sans-serif" font-size="23.4" fill="#000" fill-opacity="0.36">
<text x="552.5" y="466.6">公众号</text>
<text x="631.5" y="466.6">·</text>
<text x="647" y="466.6">亚洲氧化镓联盟</text>
</g>
</svg></body></html>
